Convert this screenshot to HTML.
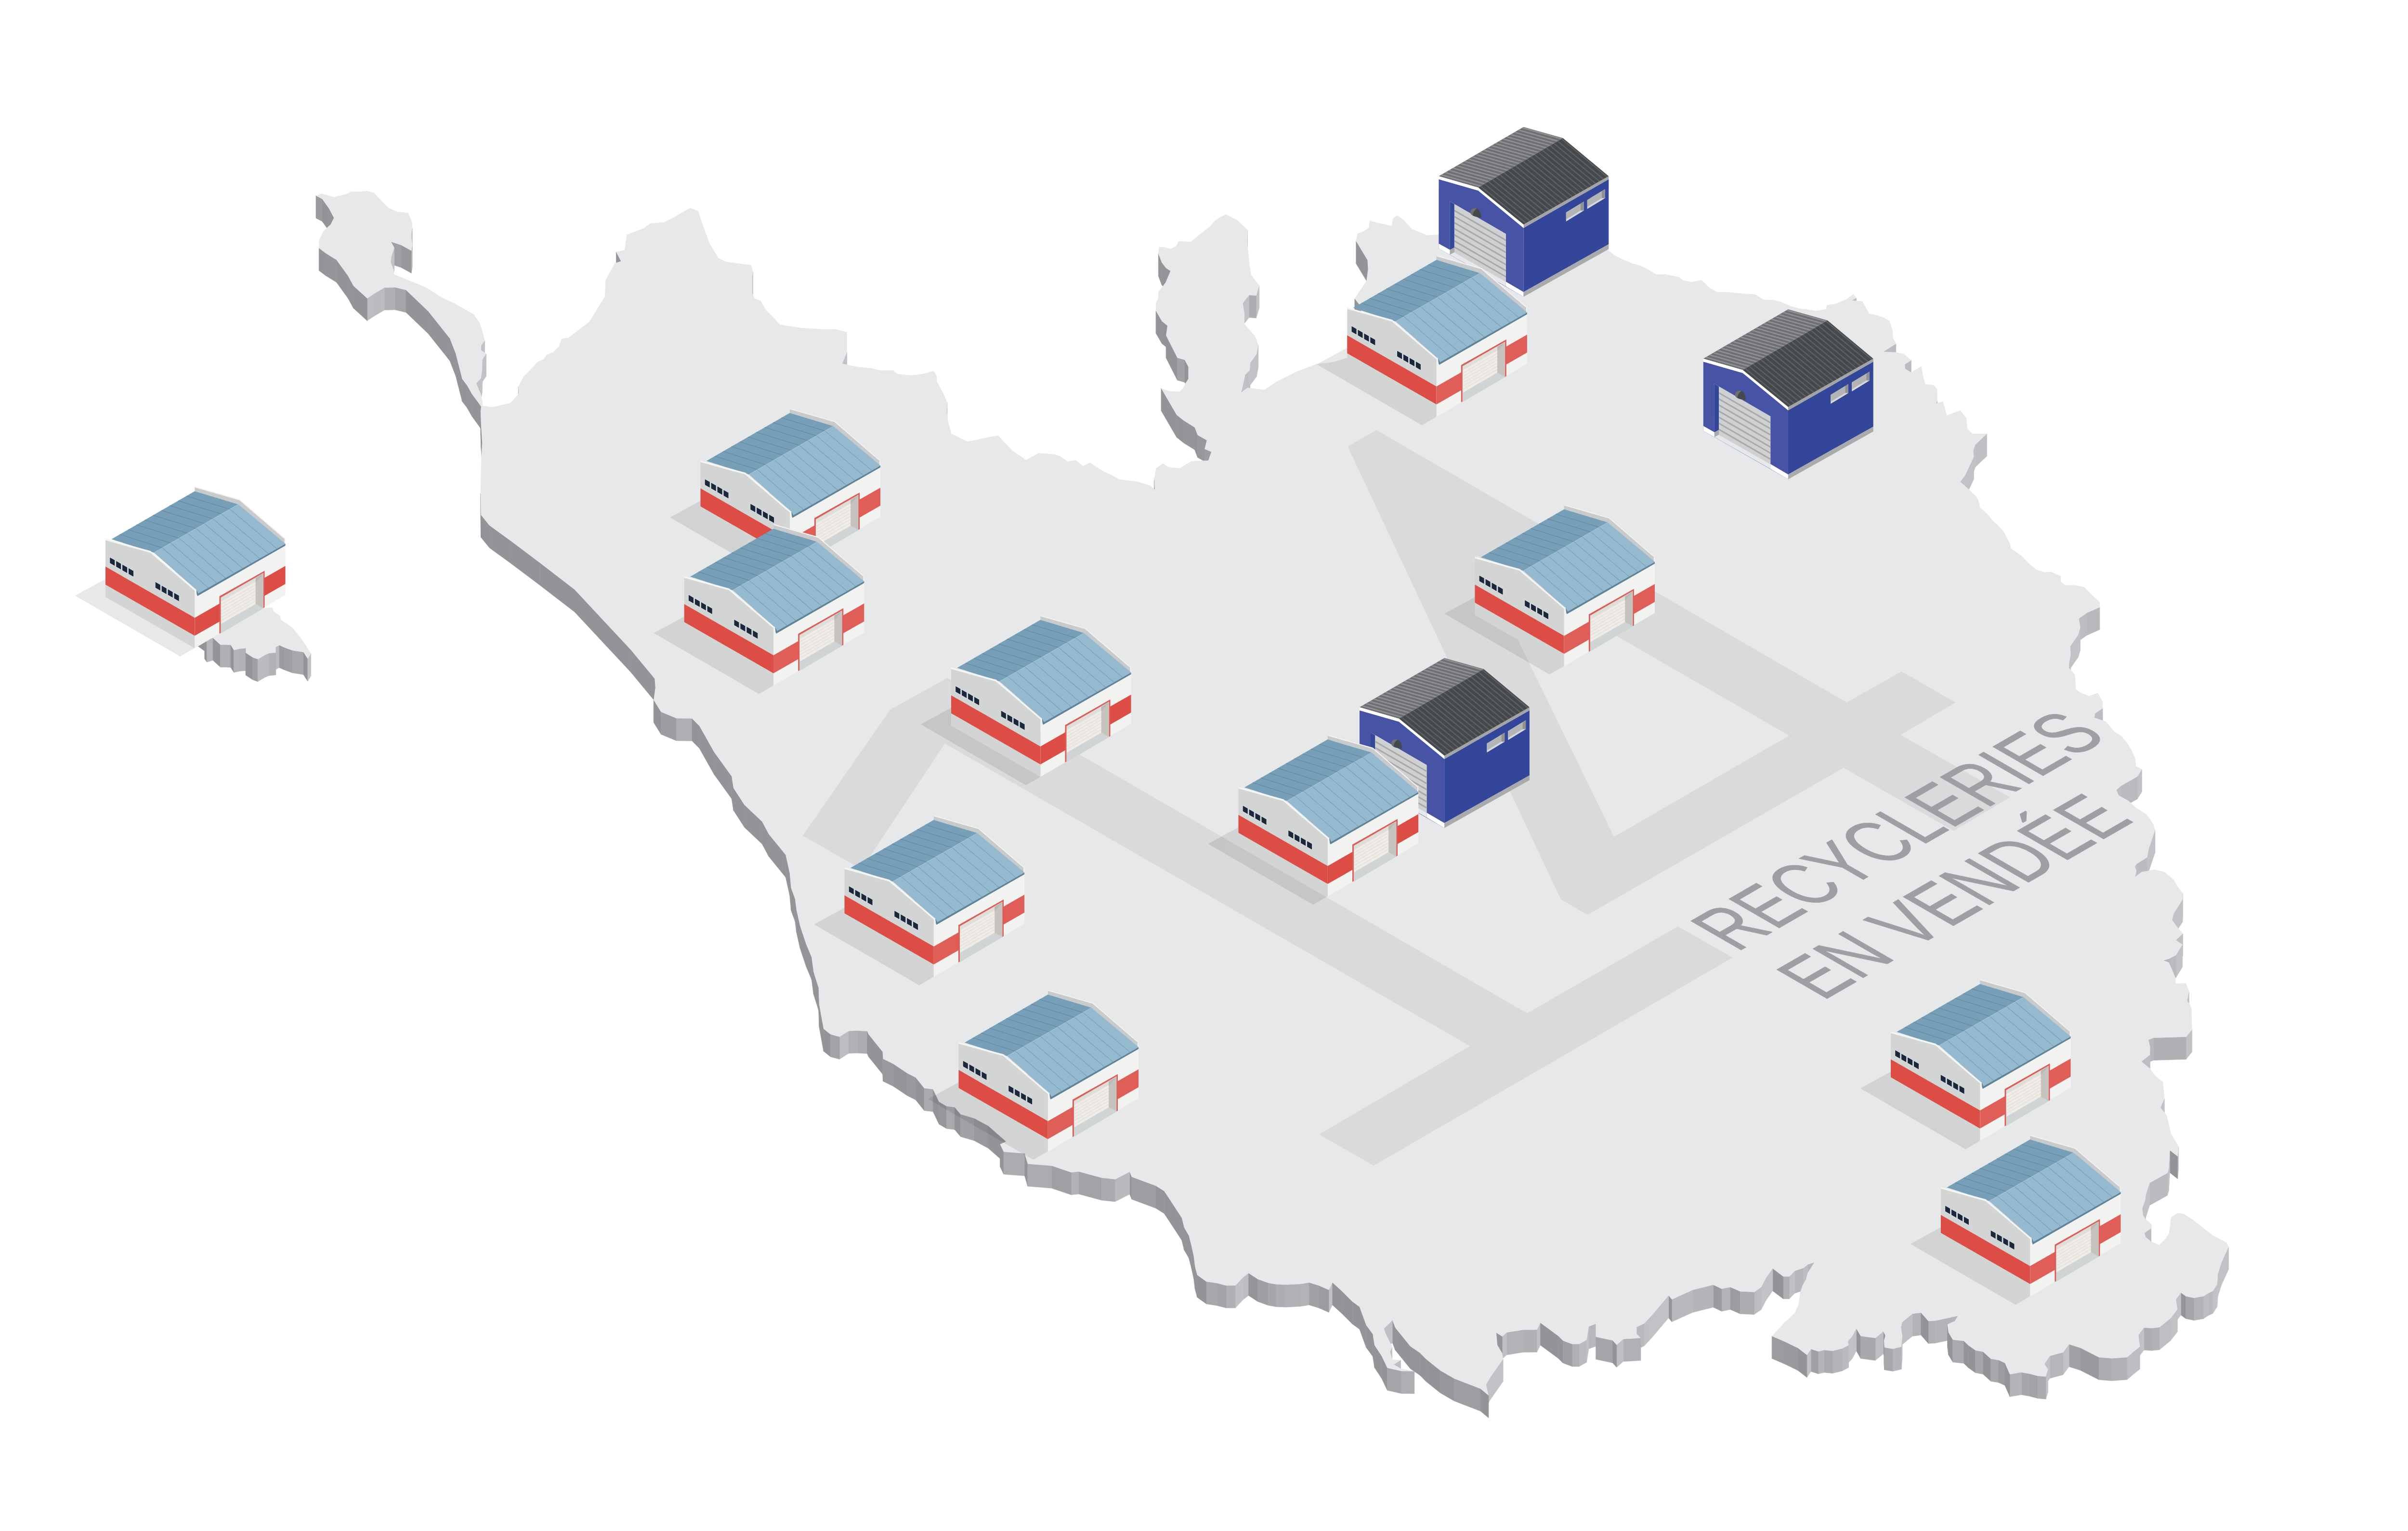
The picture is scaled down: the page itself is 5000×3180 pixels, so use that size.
<!DOCTYPE html>
<html lang="fr"><head><meta charset="utf-8"><title>Recycleries en Vendée</title>
<style>html,body{margin:0;padding:0;background:#fff;overflow:hidden}svg{display:block}</style></head><body>
<svg width="5000" height="3180" viewBox="0 0 5000 3180">
<rect width="5000" height="3180" fill="#fff"/>
<g id="sides">
<polygon points="407.4,1287.2 411.7,1296.2 411.7,1342.7 407.4,1333.7" fill="#939498" stroke="#939498" stroke-width="0.6"/>
<polygon points="411.7,1296.2 424.8,1305.8 424.8,1352.3 411.7,1342.7" fill="#939498" stroke="#939498" stroke-width="0.6"/>
<polygon points="424.8,1321.9 429.5,1328.7 429.5,1375.2 424.8,1368.4" fill="#939498" stroke="#939498" stroke-width="0.6"/>
<polygon points="429.5,1328.7 442.1,1325 442.1,1371.5 429.5,1375.2" fill="#b5b6ba" stroke="#b5b6ba" stroke-width="0.6"/>
<polygon points="442.1,1325 457.6,1339.3 457.6,1385.8 442.1,1371.5" fill="#939498" stroke="#939498" stroke-width="0.6"/>
<polygon points="457.6,1339.3 467,1339.3 467,1385.8 457.6,1385.8" fill="#afb0b4" stroke="#afb0b4" stroke-width="0.6"/>
<polygon points="467,1339.3 479,1339.7 479,1386.2 467,1385.8" fill="#adaeb2" stroke="#adaeb2" stroke-width="0.6"/>
<polygon points="572.2,1344.3 579.9,1340.3 579.9,1386.8 572.2,1390.8" fill="#babbbf" stroke="#babbbf" stroke-width="0.6"/>
<polygon points="579.9,1340.3 591.7,1345.5 591.7,1392 579.9,1386.8" fill="#9b9ca0" stroke="#9b9ca0" stroke-width="0.6"/>
<polygon points="498,1347.6 510.1,1346.4 510.1,1392.9 498,1394.1" fill="#b1b2b6" stroke="#b1b2b6" stroke-width="0.6"/>
<polygon points="479,1339.7 485.6,1350.2 485.6,1396.7 479,1386.2" fill="#939498" stroke="#939498" stroke-width="0.6"/>
<polygon points="485.6,1350.2 498,1347.6 498,1394.1 485.6,1396.7" fill="#b3b4b8" stroke="#b3b4b8" stroke-width="0.6"/>
<polygon points="591.7,1345.5 607.2,1351.1 607.2,1397.6 591.7,1392" fill="#9e9fa3" stroke="#9e9fa3" stroke-width="0.6"/>
<polygon points="607.2,1351.1 630.2,1354.8 630.2,1401.3 607.2,1397.6" fill="#a7a8ac" stroke="#a7a8ac" stroke-width="0.6"/>
<polygon points="510.1,1346.4 510.4,1356 510.4,1402.5 510.1,1392.9" fill="#939498" stroke="#939498" stroke-width="0.6"/>
<polygon points="558.2,1356.9 572.8,1355.4 572.8,1401.9 558.2,1403.4" fill="#b1b2b6" stroke="#b1b2b6" stroke-width="0.6"/>
<polygon points="550.1,1360.4 558.2,1356.9 558.2,1403.4 550.1,1406.9" fill="#b8b9bd" stroke="#b8b9bd" stroke-width="0.6"/>
<polygon points="510.4,1356 524.7,1365.4 524.7,1411.9 510.4,1402.5" fill="#949599" stroke="#949599" stroke-width="0.6"/>
<polygon points="630.2,1354.8 638.9,1368.5 638.9,1415 630.2,1401.3" fill="#939498" stroke="#939498" stroke-width="0.6"/>
<polygon points="638.9,1368.5 645.7,1357.3 645.7,1403.8 638.9,1415" fill="#c1c2c6" stroke="#c1c2c6" stroke-width="0.6"/>
<polygon points="524.7,1365.4 535.5,1369.3 535.5,1415.8 524.7,1411.9" fill="#9e9fa3" stroke="#9e9fa3" stroke-width="0.6"/>
<polygon points="535.5,1369.3 550.1,1360.4 550.1,1406.9 535.5,1415.8" fill="#bbbcc0" stroke="#bbbcc0" stroke-width="0.6"/>
<polygon points="668.9,413.3 656,406.6 656,453.1 668.9,459.8" fill="#999a9e" stroke="#999a9e" stroke-width="0.6"/>
<polygon points="682.6,432.3 668.9,413.3 668.9,459.8 682.6,478.8" fill="#939498" stroke="#939498" stroke-width="0.6"/>
<polygon points="693.3,452.6 682.6,432.3 682.6,478.8 693.3,499.1" fill="#939498" stroke="#939498" stroke-width="0.6"/>
<polygon points="856.5,473.9 853.8,484.9 853.8,531.4 856.5,520.4" fill="#c1c2c6" stroke="#c1c2c6" stroke-width="0.6"/>
<polygon points="2590.6,477.5 2589.8,506.2 2589.8,552.7 2590.6,524" fill="#c1c2c6" stroke="#c1c2c6" stroke-width="0.6"/>
<polygon points="833.1,509.2 812.2,502.2 812.2,548.7 833.1,555.7" fill="#9fa0a4" stroke="#9fa0a4" stroke-width="0.6"/>
<polygon points="856.5,508.2 854.1,520.8 854.1,567.3 856.5,554.7" fill="#c1c2c6" stroke="#c1c2c6" stroke-width="0.6"/>
<polygon points="854.1,520.8 833.1,509.2 833.1,555.7 854.1,567.3" fill="#97989c" stroke="#97989c" stroke-width="0.6"/>
<polygon points="675.9,525.8 662.3,515.5 662.3,562 675.9,572.3" fill="#939498" stroke="#939498" stroke-width="0.6"/>
<polygon points="818.8,514.5 812.5,534.8 812.5,581.3 818.8,561" fill="#c1c2c6" stroke="#c1c2c6" stroke-width="0.6"/>
<polygon points="698.6,539.8 675.9,525.8 675.9,572.3 698.6,586.3" fill="#95969a" stroke="#95969a" stroke-width="0.6"/>
<polygon points="2839.4,540.1 2815.8,500.9 2815.8,547.4 2839.4,586.6" fill="#939498" stroke="#939498" stroke-width="0.6"/>
<polygon points="1289.4,542.5 1279.4,523.2 1279.4,569.7 1289.4,589" fill="#939498" stroke="#939498" stroke-width="0.6"/>
<polygon points="812.5,534.8 811.2,544.2 811.2,590.7 812.5,581.3" fill="#c1c2c6" stroke="#c1c2c6" stroke-width="0.6"/>
<polygon points="2412.2,545 2405.3,526.9 2405.3,573.4 2412.2,591.5" fill="#939498" stroke="#939498" stroke-width="0.6"/>
<polygon points="2420.8,556.5 2412.2,545 2412.2,591.5 2420.8,603" fill="#939498" stroke="#939498" stroke-width="0.6"/>
<polygon points="2840.7,557.8 2839.4,540.1 2839.4,586.6 2840.7,604.3" fill="#939498" stroke="#939498" stroke-width="0.6"/>
<polygon points="2430.3,562.8 2420.8,556.5 2420.8,603 2430.3,609.3" fill="#949599" stroke="#949599" stroke-width="0.6"/>
<polygon points="722.6,573.1 698.6,539.8 698.6,586.3 722.6,619.6" fill="#939498" stroke="#939498" stroke-width="0.6"/>
<polygon points="1563.5,564 1561.9,575.3 1561.9,621.8 1563.5,610.5" fill="#c1c2c6" stroke="#c1c2c6" stroke-width="0.6"/>
<polygon points="733.9,593.8 722.6,573.1 722.6,619.6 733.9,640.3" fill="#939498" stroke="#939498" stroke-width="0.6"/>
<polygon points="820.5,597.1 798.2,597.5 798.2,644 820.5,643.6" fill="#afb0b4" stroke="#afb0b4" stroke-width="0.6"/>
<polygon points="843.1,602.4 820.5,597.1 820.5,643.6 843.1,648.9" fill="#a4a5a9" stroke="#a4a5a9" stroke-width="0.6"/>
<polygon points="798.2,597.5 775.9,610.8 775.9,657.3 798.2,644" fill="#bbbcc0" stroke="#bbbcc0" stroke-width="0.6"/>
<polygon points="2614.8,593 2608.4,614 2608.4,660.5 2614.8,639.5" fill="#c1c2c6" stroke="#c1c2c6" stroke-width="0.6"/>
<polygon points="2608.4,614 2593.5,613.1 2593.5,659.6 2608.4,660.5" fill="#acadb1" stroke="#acadb1" stroke-width="0.6"/>
<polygon points="775.9,610.8 762.5,619.8 762.5,666.3 775.9,657.3" fill="#bcbdc1" stroke="#bcbdc1" stroke-width="0.6"/>
<polygon points="762.5,619.8 733.9,593.8 733.9,640.3 762.5,666.3" fill="#939498" stroke="#939498" stroke-width="0.6"/>
<polygon points="3854.7,619.2 3845.1,623.8 3845.1,670.3 3854.7,665.7" fill="#b9babe" stroke="#b9babe" stroke-width="0.6"/>
<polygon points="2593.5,613.1 2580.6,629.8 2580.6,676.3 2593.5,659.6" fill="#c1c2c6" stroke="#c1c2c6" stroke-width="0.6"/>
<polygon points="2822,632 2812.9,620.5 2812.9,667 2822,678.5" fill="#939498" stroke="#939498" stroke-width="0.6"/>
<polygon points="889.1,646.4 843.1,602.4 843.1,648.9 889.1,692.9" fill="#939498" stroke="#939498" stroke-width="0.6"/>
<polygon points="2412.5,667.1 2400.1,645.6 2400.1,692.1 2412.5,713.6" fill="#939498" stroke="#939498" stroke-width="0.6"/>
<polygon points="2424,676.6 2412.5,667.1 2412.5,713.6 2424,723.1" fill="#939498" stroke="#939498" stroke-width="0.6"/>
<polygon points="2840,690 2822,632 2822,678.5 2840,736.5" fill="#939498" stroke="#939498" stroke-width="0.6"/>
<polygon points="934.1,703 889.1,646.4 889.1,692.9 934.1,749.5" fill="#939498" stroke="#939498" stroke-width="0.6"/>
<polygon points="1006.7,707.4 999,717.4 999,763.9 1006.7,753.9" fill="#c1c2c6" stroke="#c1c2c6" stroke-width="0.6"/>
<polygon points="3936.9,714 3910.8,730.6 3910.8,777.1 3936.9,760.5" fill="#bbbcc0" stroke="#bbbcc0" stroke-width="0.6"/>
<polygon points="946.4,734.7 934.1,703 934.1,749.5 946.4,781.2" fill="#939498" stroke="#939498" stroke-width="0.6"/>
<polygon points="2612.8,716 2609,736.1 2609,782.6 2612.8,762.5" fill="#c1c2c6" stroke="#c1c2c6" stroke-width="0.6"/>
<polygon points="2444.7,743.3 2421.1,696.7 2421.1,743.2 2444.7,789.8" fill="#939498" stroke="#939498" stroke-width="0.6"/>
<polygon points="1009.7,734.7 1001.7,746.7 1001.7,793.2 1009.7,781.2" fill="#c1c2c6" stroke="#c1c2c6" stroke-width="0.6"/>
<polygon points="2459.9,747.6 2444.7,743.3 2444.7,789.8 2459.9,794.1" fill="#a1a2a6" stroke="#a1a2a6" stroke-width="0.6"/>
<polygon points="2609,736.1 2596.1,753.3 2596.1,799.8 2609,782.6" fill="#c1c2c6" stroke="#c1c2c6" stroke-width="0.6"/>
<polygon points="1758.8,731.1 1748.8,755.2 1748.8,801.7 1758.8,777.6" fill="#c1c2c6" stroke="#c1c2c6" stroke-width="0.6"/>
<polygon points="3968.5,748.4 3955.2,756.8 3955.2,803.3 3968.5,794.9" fill="#bbbcc0" stroke="#bbbcc0" stroke-width="0.6"/>
<polygon points="2467.6,762 2459.9,747.6 2459.9,794.1 2467.6,808.5" fill="#939498" stroke="#939498" stroke-width="0.6"/>
<polygon points="2596.1,753.3 2594.9,769.1 2594.9,815.6 2596.1,799.8" fill="#c1c2c6" stroke="#c1c2c6" stroke-width="0.6"/>
<polygon points="1001.7,746.7 1001,769.6 1001,816.1 1001.7,793.2" fill="#c1c2c6" stroke="#c1c2c6" stroke-width="0.6"/>
<polygon points="2594.9,769.1 2585.5,778.6 2585.5,825.1 2594.9,815.6" fill="#bfc0c4" stroke="#bfc0c4" stroke-width="0.6"/>
<polygon points="1001,769.6 998.7,785.6 998.7,832.1 1001,816.1" fill="#c1c2c6" stroke="#c1c2c6" stroke-width="0.6"/>
<polygon points="959.7,787.3 946.4,734.7 946.4,781.2 959.7,833.8" fill="#939498" stroke="#939498" stroke-width="0.6"/>
<polygon points="998.7,785.6 989,796.3 989,842.8 998.7,832.1" fill="#c0c1c5" stroke="#c0c1c5" stroke-width="0.6"/>
<polygon points="969.7,800.3 959.7,787.3 959.7,833.8 969.7,846.8" fill="#939498" stroke="#939498" stroke-width="0.6"/>
<polygon points="2585.5,778.6 2577.4,815.1 2577.4,861.6 2585.5,825.1" fill="#c1c2c6" stroke="#c1c2c6" stroke-width="0.6"/>
<polygon points="1076.9,817.3 1076.3,802.9 1076.3,849.4 1076.9,863.8" fill="#939498" stroke="#939498" stroke-width="0.6"/>
<polygon points="979.7,817.9 969.7,800.3 969.7,846.8 979.7,864.4" fill="#939498" stroke="#939498" stroke-width="0.6"/>
<polygon points="4022.9,832.4 4019.6,838.6 4019.6,885.1 4022.9,878.9" fill="#c1c2c6" stroke="#c1c2c6" stroke-width="0.6"/>
<polygon points="999,844.6 979.7,817.9 979.7,864.4 999,891.1" fill="#939498" stroke="#939498" stroke-width="0.6"/>
<polygon points="1967,835.8 1965.7,853.6 1965.7,900.1 1967,882.3" fill="#c1c2c6" stroke="#c1c2c6" stroke-width="0.6"/>
<polygon points="2443.3,861.9 2411,806.5 2411,853 2443.3,908.4" fill="#939498" stroke="#939498" stroke-width="0.6"/>
<polygon points="2457.9,873.6 2443.3,861.9 2443.3,908.4 2457.9,920.1" fill="#939498" stroke="#939498" stroke-width="0.6"/>
<polygon points="999,885.9 997.8,854.8 997.8,901.3 999,932.4" fill="#939498" stroke="#939498" stroke-width="0.6"/>
<polygon points="2480.7,887.7 2457.9,873.6 2457.9,920.1 2480.7,934.2" fill="#95969a" stroke="#95969a" stroke-width="0.6"/>
<polygon points="2486.7,903.8 2480.7,887.7 2480.7,934.2 2486.7,950.3" fill="#939498" stroke="#939498" stroke-width="0.6"/>
<polygon points="2505.8,914.5 2486.7,903.8 2486.7,950.3 2505.8,961" fill="#97989c" stroke="#97989c" stroke-width="0.6"/>
<polygon points="1001.1,917.1 999,885.9 999,932.4 1001.1,963.6" fill="#939498" stroke="#939498" stroke-width="0.6"/>
<polygon points="4125.6,900.9 4101.5,923.8 4101.5,970.3 4125.6,947.4" fill="#bfc0c4" stroke="#bfc0c4" stroke-width="0.6"/>
<polygon points="4101.5,923.8 4097.3,936.2 4097.3,982.7 4101.5,970.3" fill="#c1c2c6" stroke="#c1c2c6" stroke-width="0.6"/>
<polygon points="2515.3,938.5 2501.2,932.7 2501.2,979.2 2515.3,985" fill="#9c9da1" stroke="#9c9da1" stroke-width="0.6"/>
<polygon points="4098.5,948.7 4079.9,988.2 4079.9,1034.7 4098.5,995.2" fill="#c1c2c6" stroke="#c1c2c6" stroke-width="0.6"/>
<polygon points="4079.9,988.2 4070.3,1000.6 4070.3,1047.1 4079.9,1034.7" fill="#c1c2c6" stroke="#c1c2c6" stroke-width="0.6"/>
<polygon points="2397.8,1017.1 2396.5,996 2396.5,1042.5 2397.8,1063.6" fill="#939498" stroke="#939498" stroke-width="0.6"/>
<polygon points="998.6,1069.6 997.8,1025.1 997.8,1071.6 998.6,1116.1" fill="#939498" stroke="#939498" stroke-width="0.6"/>
<polygon points="1016.5,1091.6 998.6,1069.6 998.6,1116.1 1016.5,1138.1" fill="#939498" stroke="#939498" stroke-width="0.6"/>
<polygon points="1062.2,1124.8 1016.5,1091.6 1016.5,1138.1 1062.2,1171.3" fill="#939498" stroke="#939498" stroke-width="0.6"/>
<polygon points="1120.3,1168.5 1062.2,1124.8 1062.2,1171.3 1120.3,1215" fill="#939498" stroke="#939498" stroke-width="0.6"/>
<polygon points="1193,1224.5 1120.3,1168.5 1120.3,1215 1193,1271" fill="#939498" stroke="#939498" stroke-width="0.6"/>
<polygon points="4359.9,1261.2 4332.9,1273.2 4332.9,1319.7 4359.9,1307.7" fill="#b8b9bd" stroke="#b8b9bd" stroke-width="0.6"/>
<polygon points="4332.9,1273.2 4316.7,1284.9 4316.7,1331.4 4332.9,1319.7" fill="#bcbdc1" stroke="#bcbdc1" stroke-width="0.6"/>
<polygon points="4319.6,1303.6 4315.5,1318.1 4315.5,1364.6 4319.6,1350.1" fill="#c1c2c6" stroke="#c1c2c6" stroke-width="0.6"/>
<polygon points="4315.5,1318.1 4298.8,1342.2 4298.8,1388.7 4315.5,1364.6" fill="#c1c2c6" stroke="#c1c2c6" stroke-width="0.6"/>
<polygon points="1309.4,1349.2 1193,1224.5 1193,1271 1309.4,1395.7" fill="#939498" stroke="#939498" stroke-width="0.6"/>
<polygon points="4299.7,1359.7 4296.8,1374.2 4296.8,1420.7 4299.7,1406.2" fill="#c1c2c6" stroke="#c1c2c6" stroke-width="0.6"/>
<polygon points="4296.8,1374.2 4295.5,1386.7 4295.5,1433.2 4296.8,1420.7" fill="#c1c2c6" stroke="#c1c2c6" stroke-width="0.6"/>
<polygon points="1359.3,1409.4 1309.4,1349.2 1309.4,1395.7 1359.3,1455.9" fill="#939498" stroke="#939498" stroke-width="0.6"/>
<polygon points="1360.9,1428.1 1359.3,1409.4 1359.3,1455.9 1360.9,1474.6" fill="#939498" stroke="#939498" stroke-width="0.6"/>
<polygon points="1372.6,1478.8 1357.2,1453.9 1357.2,1500.4 1372.6,1525.3" fill="#939498" stroke="#939498" stroke-width="0.6"/>
<polygon points="4366.1,1471 4349.9,1482.2 4349.9,1528.7 4366.1,1517.5" fill="#bcbdc1" stroke="#bcbdc1" stroke-width="0.6"/>
<polygon points="4349.9,1482.2 4348.7,1490.5 4348.7,1537 4349.9,1528.7" fill="#c1c2c6" stroke="#c1c2c6" stroke-width="0.6"/>
<polygon points="1404.5,1492.1 1372.6,1478.8 1372.6,1525.3 1404.5,1538.6" fill="#9c9da1" stroke="#9c9da1" stroke-width="0.6"/>
<polygon points="1437,1492.5 1404.5,1492.1 1404.5,1538.6 1437,1539" fill="#aeafb3" stroke="#aeafb3" stroke-width="0.6"/>
<polygon points="1452.3,1507.9 1437,1492.5 1437,1539 1452.3,1554.4" fill="#939498" stroke="#939498" stroke-width="0.6"/>
<polygon points="1482.7,1561.9 1452.3,1507.9 1452.3,1554.4 1482.7,1608.4" fill="#939498" stroke="#939498" stroke-width="0.6"/>
<polygon points="1519.2,1612.6 1482.7,1561.9 1482.7,1608.4 1519.2,1659.1" fill="#939498" stroke="#939498" stroke-width="0.6"/>
<polygon points="4447.6,1597.7 4438,1613.1 4438,1659.6 4447.6,1644.2" fill="#c1c2c6" stroke="#c1c2c6" stroke-width="0.6"/>
<polygon points="4438,1613.1 4421.4,1622.6 4421.4,1669.1 4438,1659.6" fill="#babbbf" stroke="#babbbf" stroke-width="0.6"/>
<polygon points="4421.4,1622.6 4403.9,1632.6 4403.9,1679.1 4421.4,1669.1" fill="#babbbf" stroke="#babbbf" stroke-width="0.6"/>
<polygon points="1523,1636.7 1519.2,1612.6 1519.2,1659.1 1523,1683.2" fill="#939498" stroke="#939498" stroke-width="0.6"/>
<polygon points="4403.9,1632.6 4394.4,1640.9 4394.4,1687.4 4403.9,1679.1" fill="#bebfc3" stroke="#bebfc3" stroke-width="0.6"/>
<polygon points="1545.8,1672 1523,1636.7 1523,1683.2 1545.8,1718.5" fill="#939498" stroke="#939498" stroke-width="0.6"/>
<polygon points="1582.4,1706.5 1545.8,1672 1545.8,1718.5 1582.4,1753" fill="#939498" stroke="#939498" stroke-width="0.6"/>
<polygon points="1596.1,1732.2 1582.4,1706.5 1582.4,1753 1596.1,1778.7" fill="#939498" stroke="#939498" stroke-width="0.6"/>
<polygon points="4474.9,1724.1 4462,1762.3 4462,1808.8 4474.9,1770.6" fill="#c1c2c6" stroke="#c1c2c6" stroke-width="0.6"/>
<polygon points="1631.4,1775.8 1596.1,1732.2 1596.1,1778.7 1631.4,1822.3" fill="#939498" stroke="#939498" stroke-width="0.6"/>
<polygon points="4462,1762.3 4458.2,1781 4458.2,1827.5 4462,1808.8" fill="#c1c2c6" stroke="#c1c2c6" stroke-width="0.6"/>
<polygon points="4458.2,1781 4436.2,1794.7 4436.2,1841.2 4458.2,1827.5" fill="#bbbcc0" stroke="#bbbcc0" stroke-width="0.6"/>
<polygon points="4436.2,1794.7 4432.9,1800.5 4432.9,1847 4436.2,1841.2" fill="#c1c2c6" stroke="#c1c2c6" stroke-width="0.6"/>
<polygon points="1639.7,1813.2 1631.4,1775.8 1631.4,1822.3 1639.7,1859.7" fill="#939498" stroke="#939498" stroke-width="0.6"/>
<polygon points="4436.2,1808.8 4433.3,1821.3 4433.3,1867.8 4436.2,1855.3" fill="#c1c2c6" stroke="#c1c2c6" stroke-width="0.6"/>
<polygon points="1642.6,1844.4 1639.7,1813.2 1639.7,1859.7 1642.6,1890.9" fill="#939498" stroke="#939498" stroke-width="0.6"/>
<polygon points="1650.9,1867.2 1642.6,1844.4 1642.6,1890.9 1650.9,1913.7" fill="#939498" stroke="#939498" stroke-width="0.6"/>
<polygon points="4532.6,1855.8 4531.8,1868.3 4531.8,1914.8 4532.6,1902.3" fill="#c1c2c6" stroke="#c1c2c6" stroke-width="0.6"/>
<polygon points="1653.8,1890.1 1650.9,1867.2 1650.9,1913.7 1653.8,1936.6" fill="#939498" stroke="#939498" stroke-width="0.6"/>
<polygon points="4531.8,1868.3 4513.1,1898.6 4513.1,1945.1 4531.8,1914.8" fill="#c1c2c6" stroke="#c1c2c6" stroke-width="0.6"/>
<polygon points="4513.1,1898.6 4510.2,1911.1 4510.2,1957.6 4513.1,1945.1" fill="#c1c2c6" stroke="#c1c2c6" stroke-width="0.6"/>
<polygon points="1661.3,1923.3 1653.8,1890.1 1653.8,1936.6 1661.3,1969.8" fill="#939498" stroke="#939498" stroke-width="0.6"/>
<polygon points="4532.6,1938.9 4518.1,1952.6 4518.1,1999.1 4532.6,1985.4" fill="#bfc0c4" stroke="#bfc0c4" stroke-width="0.6"/>
<polygon points="1673.8,1960.7 1661.3,1923.3 1661.3,1969.8 1673.8,2007.2" fill="#939498" stroke="#939498" stroke-width="0.6"/>
<polygon points="4531.8,1961.7 4518.5,1983.8 4518.5,2030.3 4531.8,2008.2" fill="#c1c2c6" stroke="#c1c2c6" stroke-width="0.6"/>
<polygon points="1685.2,1988.2 1673.8,1960.7 1673.8,2007.2 1685.2,2034.7" fill="#939498" stroke="#939498" stroke-width="0.6"/>
<polygon points="4518.5,1983.8 4505.6,1990.8 4505.6,2037.3 4518.5,2030.3" fill="#babbbf" stroke="#babbbf" stroke-width="0.6"/>
<polygon points="4505.6,1990.8 4492.3,1995 4492.3,2041.5 4505.6,2037.3" fill="#b6b7bb" stroke="#b6b7bb" stroke-width="0.6"/>
<polygon points="1689.3,2018.6 1685.2,1988.2 1685.2,2034.7 1689.3,2065.1" fill="#939498" stroke="#939498" stroke-width="0.6"/>
<polygon points="1699.7,2051.8 1689.3,2018.6 1689.3,2065.1 1699.7,2098.3" fill="#939498" stroke="#939498" stroke-width="0.6"/>
<polygon points="4545.5,2059.4 4541.3,2078.1 4541.3,2124.6 4545.5,2105.9" fill="#c1c2c6" stroke="#c1c2c6" stroke-width="0.6"/>
<polygon points="1701,2087.1 1699.7,2051.8 1699.7,2098.3 1701,2133.6" fill="#939498" stroke="#939498" stroke-width="0.6"/>
<polygon points="1710.1,2137 1701,2087.1 1701,2133.6 1710.1,2183.5" fill="#939498" stroke="#939498" stroke-width="0.6"/>
<polygon points="1780.7,2140.7 1762,2141.5 1762,2188 1780.7,2187.2" fill="#b0b1b5" stroke="#b0b1b5" stroke-width="0.6"/>
<polygon points="1800.7,2141.9 1780.7,2140.7 1780.7,2187.2 1800.7,2188.4" fill="#acadb1" stroke="#acadb1" stroke-width="0.6"/>
<polygon points="1803.6,2148.6 1800.7,2141.9 1800.7,2188.4 1803.6,2195.1" fill="#939498" stroke="#939498" stroke-width="0.6"/>
<polygon points="1724.6,2148.6 1710.1,2137 1710.1,2183.5 1724.6,2195.1" fill="#939498" stroke="#939498" stroke-width="0.6"/>
<polygon points="1762,2141.5 1743.3,2153.6 1743.3,2200.1 1762,2188" fill="#bcbdc1" stroke="#bcbdc1" stroke-width="0.6"/>
<polygon points="1743.3,2153.6 1724.6,2148.6 1724.6,2195.1 1743.3,2200.1" fill="#a2a3a7" stroke="#a2a3a7" stroke-width="0.6"/>
<polygon points="4551.7,2138.3 4539.3,2153.7 4539.3,2200.2 4551.7,2184.8" fill="#c1c2c6" stroke="#c1c2c6" stroke-width="0.6"/>
<polygon points="4539.3,2153.7 4471.5,2155.8 4471.5,2202.3 4539.3,2200.2" fill="#afb0b4" stroke="#afb0b4" stroke-width="0.6"/>
<polygon points="4471.5,2155.8 4461.2,2159.9 4461.2,2206.4 4471.5,2202.3" fill="#b7b8bc" stroke="#b7b8bc" stroke-width="0.6"/>
<polygon points="1832.7,2184.7 1803.6,2148.6 1803.6,2195.1 1832.7,2231.2" fill="#939498" stroke="#939498" stroke-width="0.6"/>
<polygon points="4464.5,2173.6 4464.1,2191.1 4464.1,2237.6 4464.5,2220.1" fill="#c1c2c6" stroke="#c1c2c6" stroke-width="0.6"/>
<polygon points="1833.5,2199.3 1832.7,2184.7 1832.7,2231.2 1833.5,2245.8" fill="#939498" stroke="#939498" stroke-width="0.6"/>
<polygon points="4464.1,2191.1 4446.6,2204.8 4446.6,2251.3 4464.1,2237.6" fill="#bdbec2" stroke="#bdbec2" stroke-width="0.6"/>
<polygon points="1854.7,2209.7 1833.5,2199.3 1833.5,2245.8 1854.7,2256.2" fill="#999a9e" stroke="#999a9e" stroke-width="0.6"/>
<polygon points="1883.8,2229.2 1854.7,2209.7 1854.7,2256.2 1883.8,2275.7" fill="#949599" stroke="#949599" stroke-width="0.6"/>
<polygon points="1901.2,2237.9 1883.8,2229.2 1883.8,2275.7 1901.2,2284.4" fill="#999a9e" stroke="#999a9e" stroke-width="0.6"/>
<polygon points="1919.1,2260.3 1901.2,2237.9 1901.2,2284.4 1919.1,2306.8" fill="#939498" stroke="#939498" stroke-width="0.6"/>
<polygon points="1937.3,2262.4 1919.1,2260.3 1919.1,2306.8 1937.3,2308.9" fill="#a9aaae" stroke="#a9aaae" stroke-width="0.6"/>
<polygon points="1949.8,2288.6 1937.3,2262.4 1937.3,2308.9 1949.8,2335.1" fill="#939498" stroke="#939498" stroke-width="0.6"/>
<polygon points="1965.6,2297.7 1949.8,2288.6 1949.8,2335.1 1965.6,2344.2" fill="#96979b" stroke="#96979b" stroke-width="0.6"/>
<polygon points="1982.2,2299.8 1965.6,2297.7 1965.6,2344.2 1982.2,2346.3" fill="#a9aaae" stroke="#a9aaae" stroke-width="0.6"/>
<polygon points="4494.4,2281.6 4485.9,2300.4 4485.9,2346.9 4494.4,2328.1" fill="#c1c2c6" stroke="#c1c2c6" stroke-width="0.6"/>
<polygon points="1994.7,2314.4 1982.2,2299.8 1982.2,2346.3 1994.7,2360.9" fill="#939498" stroke="#939498" stroke-width="0.6"/>
<polygon points="2022.9,2322.7 1994.7,2314.4 1994.7,2360.9 2022.9,2369.2" fill="#a1a2a6" stroke="#a1a2a6" stroke-width="0.6"/>
<polygon points="2052,2338.5 2022.9,2322.7 2022.9,2369.2 2052,2385" fill="#98999d" stroke="#98999d" stroke-width="0.6"/>
<polygon points="2089,2370.9 2052,2338.5 2052,2385 2089,2417.4" fill="#939498" stroke="#939498" stroke-width="0.6"/>
<polygon points="2084,2392.5 2076.5,2376.7 2076.5,2423.2 2084,2439" fill="#939498" stroke="#939498" stroke-width="0.6"/>
<polygon points="2127.6,2395.8 2084,2392.5 2084,2439 2127.6,2442.3" fill="#abacb0" stroke="#abacb0" stroke-width="0.6"/>
<polygon points="4523.7,2381 4521.7,2402.1 4521.7,2448.6 4523.7,2427.5" fill="#c1c2c6" stroke="#c1c2c6" stroke-width="0.6"/>
<polygon points="4521.7,2402.1 4505.5,2389.3 4505.5,2435.8 4521.7,2448.6" fill="#939498" stroke="#939498" stroke-width="0.6"/>
<polygon points="2133.9,2417.4 2127.6,2395.8 2127.6,2442.3 2133.9,2463.9" fill="#939498" stroke="#939498" stroke-width="0.6"/>
<polygon points="2183.7,2421.5 2133.9,2417.4 2133.9,2463.9 2183.7,2468" fill="#abacb0" stroke="#abacb0" stroke-width="0.6"/>
<polygon points="4505.5,2389.3 4503.3,2426.6 4503.3,2473.1 4505.5,2435.8" fill="#c1c2c6" stroke="#c1c2c6" stroke-width="0.6"/>
<polygon points="2239.8,2433.6 2224.4,2435.3 2224.4,2481.8 2239.8,2480.1" fill="#b1b2b6" stroke="#b1b2b6" stroke-width="0.6"/>
<polygon points="2224.4,2435.3 2183.7,2421.5 2183.7,2468 2224.4,2481.8" fill="#9fa0a4" stroke="#9fa0a4" stroke-width="0.6"/>
<polygon points="4503.3,2426.6 4500.4,2436.6 4500.4,2483.1 4503.3,2473.1" fill="#c1c2c6" stroke="#c1c2c6" stroke-width="0.6"/>
<polygon points="2349.9,2444.4 2345.7,2434 2345.7,2480.5 2349.9,2490.9" fill="#939498" stroke="#939498" stroke-width="0.6"/>
<polygon points="2287.6,2446.5 2239.8,2433.6 2239.8,2480.1 2287.6,2493" fill="#a2a3a7" stroke="#a2a3a7" stroke-width="0.6"/>
<polygon points="2345.7,2434 2315.4,2449.4 2315.4,2495.9 2345.7,2480.5" fill="#b9babe" stroke="#b9babe" stroke-width="0.6"/>
<polygon points="2315.4,2449.4 2287.6,2446.5 2287.6,2493 2315.4,2495.9" fill="#aaabaf" stroke="#aaabaf" stroke-width="0.6"/>
<polygon points="4500.4,2436.6 4463.7,2457 4463.7,2503.5 4500.4,2483.1" fill="#babbbf" stroke="#babbbf" stroke-width="0.6"/>
<polygon points="2399.8,2463.1 2349.9,2444.4 2349.9,2490.9 2399.8,2509.6" fill="#9e9fa3" stroke="#9e9fa3" stroke-width="0.6"/>
<polygon points="2417.3,2474.1 2399.8,2463.1 2399.8,2509.6 2417.3,2520.6" fill="#95969a" stroke="#95969a" stroke-width="0.6"/>
<polygon points="4463.7,2457 4455.5,2482.1 4455.5,2528.6 4463.7,2503.5" fill="#c1c2c6" stroke="#c1c2c6" stroke-width="0.6"/>
<polygon points="4455.5,2482.1 4454.9,2491 4454.9,2537.5 4455.5,2528.6" fill="#c1c2c6" stroke="#c1c2c6" stroke-width="0.6"/>
<polygon points="2428.9,2491.5 2417.3,2474.1 2417.3,2520.6 2428.9,2538" fill="#939498" stroke="#939498" stroke-width="0.6"/>
<polygon points="4454.9,2491 4448.2,2509.8 4448.2,2556.3 4454.9,2537.5" fill="#c1c2c6" stroke="#c1c2c6" stroke-width="0.6"/>
<polygon points="2453.9,2529.8 2428.9,2491.5 2428.9,2538 2453.9,2576.3" fill="#939498" stroke="#939498" stroke-width="0.6"/>
<polygon points="2458.8,2549.7 2453.9,2529.8 2453.9,2576.3 2458.8,2596.2" fill="#939498" stroke="#939498" stroke-width="0.6"/>
<polygon points="4466.6,2542 4466.2,2551.4 4466.2,2597.9 4466.6,2588.5" fill="#c1c2c6" stroke="#c1c2c6" stroke-width="0.6"/>
<polygon points="4466.2,2551.4 4452.9,2560.9 4452.9,2607.4 4466.2,2597.9" fill="#bcbdc1" stroke="#bcbdc1" stroke-width="0.6"/>
<polygon points="2468.4,2566.3 2458.8,2549.7 2458.8,2596.2 2468.4,2612.8" fill="#939498" stroke="#939498" stroke-width="0.6"/>
<polygon points="2473.8,2587.1 2468.4,2566.3 2468.4,2612.8 2473.8,2633.6" fill="#939498" stroke="#939498" stroke-width="0.6"/>
<polygon points="2478.8,2610 2473.8,2587.1 2473.8,2633.6 2478.8,2656.5" fill="#939498" stroke="#939498" stroke-width="0.6"/>
<polygon points="4627.6,2589.8 4612.8,2622 4612.8,2668.5 4627.6,2636.3" fill="#c1c2c6" stroke="#c1c2c6" stroke-width="0.6"/>
<polygon points="3767.2,2621.9 3753.9,2626.4 3753.9,2672.9 3767.2,2668.4" fill="#b6b7bb" stroke="#b6b7bb" stroke-width="0.6"/>
<polygon points="2481.3,2630.7 2478.8,2610 2478.8,2656.5 2481.3,2677.2" fill="#939498" stroke="#939498" stroke-width="0.6"/>
<polygon points="3753.9,2626.4 3744.4,2633.9 3744.4,2680.4 3753.9,2672.9" fill="#bdbec2" stroke="#bdbec2" stroke-width="0.6"/>
<polygon points="3744.4,2633.9 3726.5,2639.7 3726.5,2686.2 3744.4,2680.4" fill="#b6b7bb" stroke="#b6b7bb" stroke-width="0.6"/>
<polygon points="4612.8,2622 4605.3,2645.7 4605.3,2692.2 4612.8,2668.5" fill="#c1c2c6" stroke="#c1c2c6" stroke-width="0.6"/>
<polygon points="2485.9,2648.2 2481.3,2630.7 2481.3,2677.2 2485.9,2694.7" fill="#939498" stroke="#939498" stroke-width="0.6"/>
<polygon points="3726.5,2639.7 3715.3,2651.4 3715.3,2697.9 3726.5,2686.2" fill="#c0c1c5" stroke="#c0c1c5" stroke-width="0.6"/>
<polygon points="3715.3,2651.4 3702.8,2651.4 3702.8,2697.9 3715.3,2697.9" fill="#afb0b4" stroke="#afb0b4" stroke-width="0.6"/>
<polygon points="3702.8,2651.4 3680.8,2634.7 3680.8,2681.2 3702.8,2697.9" fill="#939498" stroke="#939498" stroke-width="0.6"/>
<polygon points="2592.6,2644.4 2580.6,2653.6 2580.6,2700.1 2592.6,2690.9" fill="#bdbec2" stroke="#bdbec2" stroke-width="0.6"/>
<polygon points="3680.8,2634.7 3666.7,2654.7 3666.7,2701.2 3680.8,2681.2" fill="#c1c2c6" stroke="#c1c2c6" stroke-width="0.6"/>
<polygon points="2611.7,2656.9 2592.6,2644.4 2592.6,2690.9 2611.7,2703.4" fill="#949599" stroke="#949599" stroke-width="0.6"/>
<polygon points="2505,2661.9 2485.9,2648.2 2485.9,2694.7 2505,2708.4" fill="#939498" stroke="#939498" stroke-width="0.6"/>
<polygon points="2633.3,2664.8 2611.7,2656.9 2611.7,2703.4 2633.3,2711.3" fill="#9e9fa3" stroke="#9e9fa3" stroke-width="0.6"/>
<polygon points="2526.6,2665.2 2505,2661.9 2505,2708.4 2526.6,2711.7" fill="#a7a8ac" stroke="#a7a8ac" stroke-width="0.6"/>
<polygon points="2718.1,2664 2700.2,2666.9 2700.2,2713.4 2718.1,2710.5" fill="#b2b3b7" stroke="#b2b3b7" stroke-width="0.6"/>
<polygon points="4605.3,2645.7 4603.7,2667.7 4603.7,2714.2 4605.3,2692.2" fill="#c1c2c6" stroke="#c1c2c6" stroke-width="0.6"/>
<polygon points="2650,2667.7 2633.3,2664.8 2633.3,2711.3 2650,2714.2" fill="#a6a7ab" stroke="#a6a7ab" stroke-width="0.6"/>
<polygon points="2700.2,2666.9 2670.7,2668.5 2670.7,2715 2700.2,2713.4" fill="#b0b1b5" stroke="#b0b1b5" stroke-width="0.6"/>
<polygon points="2670.7,2668.5 2650,2667.7 2650,2714.2 2670.7,2715" fill="#adaeb2" stroke="#adaeb2" stroke-width="0.6"/>
<polygon points="2738.5,2670.2 2718.1,2664 2718.1,2710.5 2738.5,2716.7" fill="#a0a1a5" stroke="#a0a1a5" stroke-width="0.6"/>
<polygon points="2580.6,2653.6 2565.2,2670.2 2565.2,2716.7 2580.6,2700.1" fill="#c0c1c5" stroke="#c0c1c5" stroke-width="0.6"/>
<polygon points="2565.2,2670.2 2546.1,2670.2 2546.1,2716.7 2565.2,2716.7" fill="#afb0b4" stroke="#afb0b4" stroke-width="0.6"/>
<polygon points="2546.1,2670.2 2526.6,2665.2 2526.6,2711.7 2546.1,2716.7" fill="#a3a4a8" stroke="#a3a4a8" stroke-width="0.6"/>
<polygon points="3666.7,2654.7 3657.1,2673.4 3657.1,2719.9 3666.7,2701.2" fill="#c1c2c6" stroke="#c1c2c6" stroke-width="0.6"/>
<polygon points="3592.8,2673.4 3574.9,2677.1 3574.9,2723.6 3592.8,2719.9" fill="#b3b4b8" stroke="#b3b4b8" stroke-width="0.6"/>
<polygon points="3574.9,2677.1 3557.4,2668.8 3557.4,2715.3 3574.9,2723.6" fill="#9a9b9f" stroke="#9a9b9f" stroke-width="0.6"/>
<polygon points="2766.7,2664 2759.2,2679.3 2759.2,2725.8 2766.7,2710.5" fill="#c1c2c6" stroke="#c1c2c6" stroke-width="0.6"/>
<polygon points="2759.2,2679.3 2738.5,2670.2 2738.5,2716.7 2759.2,2725.8" fill="#9b9ca0" stroke="#9b9ca0" stroke-width="0.6"/>
<polygon points="3557.4,2668.8 3514.6,2679.6 3514.6,2726.1 3557.4,2715.3" fill="#b4b5b9" stroke="#b4b5b9" stroke-width="0.6"/>
<polygon points="4603.7,2667.7 4594.9,2681.4 4594.9,2727.9 4603.7,2714.2" fill="#c1c2c6" stroke="#c1c2c6" stroke-width="0.6"/>
<polygon points="2786.2,2681.8 2766.7,2664 2766.7,2710.5 2786.2,2728.3" fill="#939498" stroke="#939498" stroke-width="0.6"/>
<polygon points="3613.5,2682.5 3592.8,2673.4 3592.8,2719.9 3613.5,2729" fill="#9b9ca0" stroke="#9b9ca0" stroke-width="0.6"/>
<polygon points="3657.1,2673.4 3642.6,2683.8 3642.6,2730.3 3657.1,2719.9" fill="#bcbdc1" stroke="#bcbdc1" stroke-width="0.6"/>
<polygon points="3642.6,2683.8 3613.5,2682.5 3613.5,2729 3642.6,2730.3" fill="#acadb1" stroke="#acadb1" stroke-width="0.6"/>
<polygon points="4594.9,2681.4 4584.5,2686.4 4584.5,2732.9 4594.9,2727.9" fill="#b9babe" stroke="#b9babe" stroke-width="0.6"/>
<polygon points="4584.5,2686.4 4575.4,2692.6 4575.4,2739.1 4584.5,2732.9" fill="#bcbdc1" stroke="#bcbdc1" stroke-width="0.6"/>
<polygon points="4538.8,2692.6 4528.5,2685.1 4528.5,2731.6 4538.8,2739.1" fill="#939498" stroke="#939498" stroke-width="0.6"/>
<polygon points="4575.4,2692.6 4555.5,2695.9 4555.5,2742.4 4575.4,2739.1" fill="#b2b3b7" stroke="#b2b3b7" stroke-width="0.6"/>
<polygon points="4555.5,2695.9 4538.8,2692.6 4538.8,2739.1 4555.5,2742.4" fill="#a5a6aa" stroke="#a5a6aa" stroke-width="0.6"/>
<polygon points="4528.5,2685.1 4518.1,2698.8 4518.1,2745.3 4528.5,2731.6" fill="#c1c2c6" stroke="#c1c2c6" stroke-width="0.6"/>
<polygon points="3514.6,2679.6 3471.4,2699.1 3471.4,2745.6 3514.6,2726.1" fill="#b8b9bd" stroke="#b8b9bd" stroke-width="0.6"/>
<polygon points="3471.4,2699.1 3464.8,2690.8 3464.8,2737.3 3471.4,2745.6" fill="#939498" stroke="#939498" stroke-width="0.6"/>
<polygon points="2808.3,2703.8 2786.2,2681.8 2786.2,2728.3 2808.3,2750.3" fill="#939498" stroke="#939498" stroke-width="0.6"/>
<polygon points="2823,2714.4 2808.3,2703.8 2808.3,2750.3 2823,2760.9" fill="#939498" stroke="#939498" stroke-width="0.6"/>
<polygon points="3988.7,2726.5 3970.8,2729 3970.8,2775.5 3988.7,2773" fill="#b2b3b7" stroke="#b2b3b7" stroke-width="0.6"/>
<polygon points="3464.8,2690.8 3429.5,2732.4 3429.5,2778.9 3464.8,2737.3" fill="#c1c2c6" stroke="#c1c2c6" stroke-width="0.6"/>
<polygon points="4521.4,2719.6 4506.9,2738.3 4506.9,2784.8 4521.4,2766.1" fill="#c1c2c6" stroke="#c1c2c6" stroke-width="0.6"/>
<polygon points="4065.2,2733.3 4018.6,2743.2 4018.6,2789.7 4065.2,2779.8" fill="#b3b4b8" stroke="#b3b4b8" stroke-width="0.6"/>
<polygon points="4018.6,2743.2 4004.1,2744 4004.1,2790.5 4018.6,2789.7" fill="#b0b1b5" stroke="#b0b1b5" stroke-width="0.6"/>
<polygon points="4004.1,2744 3988.7,2726.5 3988.7,2773 4004.1,2790.5" fill="#939498" stroke="#939498" stroke-width="0.6"/>
<polygon points="3970.8,2729 3950,2746.1 3950,2792.6 3970.8,2775.5" fill="#bebfc3" stroke="#bebfc3" stroke-width="0.6"/>
<polygon points="3429.5,2732.4 3414.1,2749 3414.1,2795.5 3429.5,2778.9" fill="#c0c1c5" stroke="#c0c1c5" stroke-width="0.6"/>
<polygon points="2836.7,2752.2 2823,2714.4 2823,2760.9 2836.7,2798.7" fill="#939498" stroke="#939498" stroke-width="0.6"/>
<polygon points="3313.6,2749.8 3299,2755.2 3299,2801.7 3313.6,2796.3" fill="#b7b8bc" stroke="#b7b8bc" stroke-width="0.6"/>
<polygon points="3950,2746.1 3947.1,2756.5 3947.1,2803 3950,2792.6" fill="#c1c2c6" stroke="#c1c2c6" stroke-width="0.6"/>
<polygon points="3414.1,2749 3398.3,2756.5 3398.3,2803 3414.1,2795.5" fill="#b9babe" stroke="#b9babe" stroke-width="0.6"/>
<polygon points="4506.9,2738.3 4484,2757 4484,2803.5 4506.9,2784.8" fill="#bebfc3" stroke="#bebfc3" stroke-width="0.6"/>
<polygon points="2897.1,2757.7 2891.2,2742.2 2891.2,2788.7 2897.1,2804.2" fill="#939498" stroke="#939498" stroke-width="0.6"/>
<polygon points="4484,2757 4468.2,2758.7 4468.2,2805.2 4484,2803.5" fill="#b1b2b6" stroke="#b1b2b6" stroke-width="0.6"/>
<polygon points="4468.2,2758.7 4451.6,2757.8 4451.6,2804.3 4468.2,2805.2" fill="#acadb1" stroke="#acadb1" stroke-width="0.6"/>
<polygon points="2891.2,2742.2 2873.6,2759.7 2873.6,2806.2 2891.2,2788.7" fill="#bfc0c4" stroke="#bfc0c4" stroke-width="0.6"/>
<polygon points="3198.4,2747.5 3191.3,2762 3191.3,2808.5 3198.4,2794" fill="#c1c2c6" stroke="#c1c2c6" stroke-width="0.6"/>
<polygon points="3191.3,2762 3162.3,2762.3 3162.3,2808.8 3191.3,2808.5" fill="#afb0b4" stroke="#afb0b4" stroke-width="0.6"/>
<polygon points="4045.7,2767.4 4043.6,2750.8 4043.6,2797.3 4045.7,2813.9" fill="#939498" stroke="#939498" stroke-width="0.6"/>
<polygon points="3162.3,2762.3 3128.4,2767.8 3128.4,2814.3 3162.3,2808.8" fill="#b2b3b7" stroke="#b2b3b7" stroke-width="0.6"/>
<polygon points="2850.4,2770.9 2836.7,2752.2 2836.7,2798.7 2850.4,2817.4" fill="#939498" stroke="#939498" stroke-width="0.6"/>
<polygon points="4451.6,2757.8 4440.4,2772.8 4440.4,2819.3 4451.6,2804.3" fill="#c1c2c6" stroke="#c1c2c6" stroke-width="0.6"/>
<polygon points="3914.7,2773.9 3910.6,2765.6 3910.6,2812.1 3914.7,2820.4" fill="#939498" stroke="#939498" stroke-width="0.6"/>
<polygon points="3235.7,2774.9 3198.4,2747.5 3198.4,2794 3235.7,2821.4" fill="#939498" stroke="#939498" stroke-width="0.6"/>
<polygon points="3863.6,2775.2 3854.5,2759.4 3854.5,2805.9 3863.6,2821.7" fill="#939498" stroke="#939498" stroke-width="0.6"/>
<polygon points="3854.5,2759.4 3846.2,2775.2 3846.2,2821.7 3854.5,2805.9" fill="#c1c2c6" stroke="#c1c2c6" stroke-width="0.6"/>
<polygon points="3128.4,2767.8 3119.3,2776 3119.3,2822.5 3128.4,2814.3" fill="#bfc0c4" stroke="#bfc0c4" stroke-width="0.6"/>
<polygon points="3119.3,2776 3107,2768.3 3107,2814.8 3119.3,2822.5" fill="#95969a" stroke="#95969a" stroke-width="0.6"/>
<polygon points="3910.6,2765.6 3894,2779.3 3894,2825.8 3910.6,2812.1" fill="#bebfc3" stroke="#bebfc3" stroke-width="0.6"/>
<polygon points="3894,2779.3 3863.6,2775.2 3863.6,2821.7 3894,2825.8" fill="#a8a9ad" stroke="#a8a9ad" stroke-width="0.6"/>
<polygon points="3407,2779.3 3370.5,2781.4 3370.5,2827.9 3407,2825.8" fill="#b0b1b5" stroke="#b0b1b5" stroke-width="0.6"/>
<polygon points="4054.8,2782.8 4045.7,2767.4 4045.7,2813.9 4054.8,2829.3" fill="#939498" stroke="#939498" stroke-width="0.6"/>
<polygon points="3299,2755.2 3294.5,2783 3294.5,2829.5 3299,2801.7" fill="#c1c2c6" stroke="#c1c2c6" stroke-width="0.6"/>
<polygon points="3348.5,2784.3 3313.6,2776.8 3313.6,2823.3 3348.5,2830.8" fill="#a4a5a9" stroke="#a4a5a9" stroke-width="0.6"/>
<polygon points="3245.3,2784.4 3235.7,2774.9 3235.7,2821.4 3245.3,2830.9" fill="#939498" stroke="#939498" stroke-width="0.6"/>
<polygon points="4077.7,2785.3 4054.8,2782.8 4054.8,2829.3 4077.7,2831.8" fill="#a9aaae" stroke="#a9aaae" stroke-width="0.6"/>
<polygon points="3846.2,2775.2 3837,2785.5 3837,2832 3846.2,2821.7" fill="#c1c2c6" stroke="#c1c2c6" stroke-width="0.6"/>
<polygon points="3250,2786.4 3245.3,2784.4 3245.3,2830.9 3250,2832.9" fill="#9c9da1" stroke="#9c9da1" stroke-width="0.6"/>
<polygon points="3707,2787.2 3679.2,2775.2 3679.2,2821.7 3707,2833.7" fill="#9b9ca0" stroke="#9b9ca0" stroke-width="0.6"/>
<polygon points="3294.5,2783 3279.1,2791.8 3279.1,2838.3 3294.5,2829.5" fill="#babbbf" stroke="#babbbf" stroke-width="0.6"/>
<polygon points="3279.1,2791.8 3264.5,2791.8 3264.5,2838.3 3279.1,2838.3" fill="#afb0b4" stroke="#afb0b4" stroke-width="0.6"/>
<polygon points="3264.5,2791.8 3250,2786.4 3250,2832.9 3264.5,2838.3" fill="#9e9fa3" stroke="#9e9fa3" stroke-width="0.6"/>
<polygon points="3370.5,2781.4 3356.8,2793.4 3356.8,2839.9 3370.5,2827.9" fill="#bebfc3" stroke="#bebfc3" stroke-width="0.6"/>
<polygon points="3356.8,2793.4 3348.5,2784.3 3348.5,2830.8 3356.8,2839.9" fill="#939498" stroke="#939498" stroke-width="0.6"/>
<polygon points="2854.1,2794.3 2850.4,2770.9 2850.4,2817.4 2854.1,2840.8" fill="#939498" stroke="#939498" stroke-width="0.6"/>
<polygon points="4087.2,2794.4 4077.7,2785.3 4077.7,2831.8 4087.2,2840.9" fill="#939498" stroke="#939498" stroke-width="0.6"/>
<polygon points="2928.5,2796.5 2897.1,2757.7 2897.1,2804.2 2928.5,2843" fill="#939498" stroke="#939498" stroke-width="0.6"/>
<polygon points="3950,2773.9 3948,2797.6 3948,2844.1 3950,2820.4" fill="#c1c2c6" stroke="#c1c2c6" stroke-width="0.6"/>
<polygon points="3912.7,2798.8 3911.8,2784.3 3911.8,2830.8 3912.7,2845.3" fill="#939498" stroke="#939498" stroke-width="0.6"/>
<polygon points="4319.9,2799.8 4296.2,2792.3 4296.2,2838.8 4319.9,2846.3" fill="#a0a1a5" stroke="#a0a1a5" stroke-width="0.6"/>
<polygon points="3733.2,2800.1 3707,2787.2 3707,2833.7 3733.2,2846.6" fill="#999a9e" stroke="#999a9e" stroke-width="0.6"/>
<polygon points="3838.7,2793.9 3825.4,2800.9 3825.4,2847.4 3838.7,2840.4" fill="#babbbf" stroke="#babbbf" stroke-width="0.6"/>
<polygon points="3948,2797.6 3930.1,2801.7 3930.1,2848.2 3948,2844.1" fill="#b4b5b9" stroke="#b4b5b9" stroke-width="0.6"/>
<polygon points="3930.1,2801.7 3912.7,2798.8 3912.7,2845.3 3930.1,2848.2" fill="#a7a8ac" stroke="#a7a8ac" stroke-width="0.6"/>
<polygon points="4101.8,2804.8 4087.2,2794.4 4087.2,2840.9 4101.8,2851.3" fill="#939498" stroke="#939498" stroke-width="0.6"/>
<polygon points="3825.4,2800.9 3805.5,2805.9 3805.5,2852.4 3825.4,2847.4" fill="#b4b5b9" stroke="#b4b5b9" stroke-width="0.6"/>
<polygon points="3805.5,2805.9 3788,2804.2 3788,2850.7 3805.5,2852.4" fill="#aaabaf" stroke="#aaabaf" stroke-width="0.6"/>
<polygon points="3788,2804.2 3775.6,2807.1 3775.6,2853.6 3788,2850.7" fill="#b4b5b9" stroke="#b4b5b9" stroke-width="0.6"/>
<polygon points="3775.6,2807.1 3760.2,2802.2 3760.2,2848.7 3775.6,2853.6" fill="#a0a1a5" stroke="#a0a1a5" stroke-width="0.6"/>
<polygon points="2890.7,2798 2886.4,2807.5 2886.4,2854 2890.7,2844.5" fill="#c1c2c6" stroke="#c1c2c6" stroke-width="0.6"/>
<polygon points="4443.3,2797.3 4430,2807.7 4430,2854.2 4443.3,2843.8" fill="#bdbec2" stroke="#bdbec2" stroke-width="0.6"/>
<polygon points="4117.6,2807.7 4101.8,2804.8 4101.8,2851.3 4117.6,2854.2" fill="#a6a7ab" stroke="#a6a7ab" stroke-width="0.6"/>
<polygon points="4296.2,2792.3 4283.8,2808.9 4283.8,2855.4 4296.2,2838.8" fill="#c1c2c6" stroke="#c1c2c6" stroke-width="0.6"/>
<polygon points="2948.3,2809.9 2928.5,2796.5 2928.5,2843 2948.3,2856.4" fill="#949599" stroke="#949599" stroke-width="0.6"/>
<polygon points="3760.2,2802.2 3751.9,2814.6 3751.9,2861.1 3760.2,2848.7" fill="#c1c2c6" stroke="#c1c2c6" stroke-width="0.6"/>
<polygon points="3751.9,2814.6 3733.2,2800.1 3733.2,2846.6 3751.9,2861.1" fill="#939498" stroke="#939498" stroke-width="0.6"/>
<polygon points="2868.7,2816.3 2854.1,2794.3 2854.1,2840.8 2868.7,2862.8" fill="#939498" stroke="#939498" stroke-width="0.6"/>
<polygon points="4283.8,2808.9 4256.3,2816.4 4256.3,2862.9 4283.8,2855.4" fill="#b5b6ba" stroke="#b5b6ba" stroke-width="0.6"/>
<polygon points="4430,2807.7 4416.7,2819.3 4416.7,2865.8 4430,2854.2" fill="#bebfc3" stroke="#bebfc3" stroke-width="0.6"/>
<polygon points="4358.1,2819.3 4319.9,2799.8 4319.9,2846.3 4358.1,2865.8" fill="#999a9e" stroke="#999a9e" stroke-width="0.6"/>
<polygon points="4416.7,2819.3 4384.3,2821.4 4384.3,2867.9 4416.7,2865.8" fill="#b0b1b5" stroke="#b0b1b5" stroke-width="0.6"/>
<polygon points="4384.3,2821.4 4358.1,2819.3 4358.1,2865.8 4384.3,2867.9" fill="#abacb0" stroke="#abacb0" stroke-width="0.6"/>
<polygon points="4133.8,2822.6 4117.6,2807.7 4117.6,2854.2 4133.8,2869.1" fill="#939498" stroke="#939498" stroke-width="0.6"/>
<polygon points="2961.1,2823 2948.3,2809.9 2948.3,2856.4 2961.1,2869.5" fill="#939498" stroke="#939498" stroke-width="0.6"/>
<polygon points="4149.6,2825.1 4133.8,2822.6 4133.8,2869.1 4149.6,2871.6" fill="#a7a8ac" stroke="#a7a8ac" stroke-width="0.6"/>
<polygon points="4162.9,2831 4149.6,2825.1 4149.6,2871.6 4162.9,2877.5" fill="#9b9ca0" stroke="#9b9ca0" stroke-width="0.6"/>
<polygon points="4256.3,2816.4 4245.1,2833 4245.1,2879.5 4256.3,2862.9" fill="#c1c2c6" stroke="#c1c2c6" stroke-width="0.6"/>
<polygon points="2908.6,2824.9 2894.3,2834.2 2894.3,2880.7 2908.6,2871.4" fill="#bcbdc1" stroke="#bcbdc1" stroke-width="0.6"/>
<polygon points="2880.6,2841.3 2868.7,2816.3 2868.7,2862.8 2880.6,2887.8" fill="#939498" stroke="#939498" stroke-width="0.6"/>
<polygon points="2990.3,2846.4 2961.1,2823 2961.1,2869.5 2990.3,2892.9" fill="#939498" stroke="#939498" stroke-width="0.6"/>
<polygon points="2909.9,2847.9 2880.6,2841.3 2880.6,2887.8 2909.9,2894.4" fill="#a4a5a9" stroke="#a4a5a9" stroke-width="0.6"/>
<polygon points="2936.9,2848.3 2909.9,2847.9 2909.9,2894.4 2936.9,2894.8" fill="#aeafb3" stroke="#aeafb3" stroke-width="0.6"/>
<polygon points="4214,2853.4 4197.3,2850.5 4197.3,2897 4214,2899.9" fill="#a6a7ab" stroke="#a6a7ab" stroke-width="0.6"/>
<polygon points="4197.3,2850.5 4173.2,2854.6 4173.2,2901.1 4197.3,2897" fill="#b3b4b8" stroke="#b3b4b8" stroke-width="0.6"/>
<polygon points="4173.2,2854.6 4162.9,2831 4162.9,2877.5 4173.2,2901.1" fill="#939498" stroke="#939498" stroke-width="0.6"/>
<polygon points="4231.4,2858 4214,2853.4 4214,2899.9 4231.4,2904.5" fill="#a2a3a7" stroke="#a2a3a7" stroke-width="0.6"/>
<polygon points="3121.1,2822.7 3095.5,2859.2 3095.5,2905.7 3121.1,2869.2" fill="#c1c2c6" stroke="#c1c2c6" stroke-width="0.6"/>
<polygon points="4252.6,2844.2 4248,2859.6 4248,2906.1 4252.6,2890.7" fill="#c1c2c6" stroke="#c1c2c6" stroke-width="0.6"/>
<polygon points="4248,2859.6 4231.4,2858 4231.4,2904.5 4248,2906.1" fill="#aaabaf" stroke="#aaabaf" stroke-width="0.6"/>
<polygon points="3019.6,2863.4 2990.3,2846.4 2990.3,2892.9 3019.6,2909.9" fill="#96979b" stroke="#96979b" stroke-width="0.6"/>
<polygon points="3095.5,2859.2 3085.8,2875.7 3085.8,2922.2 3095.5,2905.7" fill="#c1c2c6" stroke="#c1c2c6" stroke-width="0.6"/>
<polygon points="3074.1,2884.5 3019.6,2863.4 3019.6,2909.9 3074.1,2931" fill="#9d9ea2" stroke="#9d9ea2" stroke-width="0.6"/>
<polygon points="3090.9,2898.6 3074.1,2884.5 3074.1,2931 3090.9,2945.1" fill="#939498" stroke="#939498" stroke-width="0.6"/>
</g>
<polygon points="411.7,1296.2 424.8,1305.8 424.8,1321.9 429.5,1328.7 442.1,1325 457.6,1339.3 467,1339.3 479,1339.7 485.6,1350.2 498,1347.6 510.1,1346.4 510.4,1356 524.7,1365.4 535.5,1369.3 550.1,1360.4 558.2,1356.9 572.8,1355.4 572.2,1344.3 579.9,1340.3 591.7,1345.5 607.2,1351.1 630.2,1354.8 638.9,1368.5 645.7,1357.3 635.1,1340.5 622.1,1321.9 608.4,1305.2 596.7,1295.9 583.6,1287.8 581.1,1278.5 567.7,1269.8 566.2,1262.1 555.1,1262.1 547,1264.2 476.9,1252.4 407.4,1287.2" fill="#e7e8ea"/>
<polygon points="656,406.6 667.6,401.9 693.9,409.6 717.2,403.6 730.6,397.6 744.9,398.3 762.2,396.6 776.5,400.6 794.2,419.3 807.2,431.9 825.5,439.9 847.5,441.9 855.8,462.2 856.5,473.9 853.8,484.9 854.5,496.5 856.5,508.2 854.1,520.8 833.1,509.2 812.2,502.2 818.8,514.5 812.5,534.8 811.2,544.2 817.2,559.8 818.2,569.8 885.8,597.5 917.4,618.1 943,629.8 983.7,653.1 996.3,671.1 1002,689.7 1006.7,707.4 999,717.4 999,727.3 1009.7,734.7 1001.7,746.7 1001,769.6 998.7,785.6 989,796.3 998.7,819.6 1002,836.3 1002,842.9 1023,845.6 1059.6,836.9 1068.9,827.3 1076.9,817.3 1076.3,802.9 1087.3,782 1117.2,751.3 1128.6,746.3 1134.6,737.3 1148.9,731.3 1160.5,719.7 1166.2,703.7 1180.8,701 1223.8,668.1 1256.1,615.8 1257.1,582.1 1276.8,546.5 1289.4,542.5 1279.4,523.2 1296.8,519.2 1301.4,487.5 1336.7,473.9 1350,464.2 1378.7,461.6 1400,450.9 1412.3,443.6 1433.1,431.9 1449.7,438.2 1457.2,461.8 1473.8,505.9 1491.3,535.8 1507.9,543.7 1559.8,550.8 1563.5,564 1561.9,575.3 1561.9,608.5 1566.9,620.1 1579.7,625.1 1588.9,641.7 1620,674.6 1661.6,680.8 1708.1,684.1 1735.5,683.7 1758.8,689.9 1758.8,731.1 1748.8,755.2 1784.2,762.6 1809.1,764.7 1827.8,769.3 1854.8,769.3 1863.1,776.8 1890.1,779.7 1915,776.8 1938.7,770.5 1944.9,779.7 1945.3,792.1 1958.6,817.1 1967,835.8 1965.7,853.6 1969,876.5 1975.3,900.6 2008.5,917.2 2031.3,913 2055,907.6 2072.9,904.7 2088.7,922.2 2104.1,938 2120.7,948.3 2130.2,955.4 2156.8,940.9 2189.2,943.8 2202.5,948.3 2217.1,958.7 2234.1,955.8 2248.6,967.9 2263.2,960.8 2290.7,978.9 2307.6,986.4 2324.4,995.7 2361.3,1000.2 2387.4,1008.3 2397.8,1017.1 2396.5,996 2400.3,972.8 2414.5,962.5 2425.6,969.9 2449.3,972.8 2473.8,957.8 2498.3,956.8 2508.8,956.5 2515.3,938.5 2501.2,932.7 2505.8,914.5 2486.7,903.8 2480.7,887.7 2457.9,873.6 2443.3,861.9 2411,806.5 2427.4,812.2 2449.8,813.7 2457,805.1 2461.9,795.6 2467.6,786.4 2467.6,762 2459.9,747.6 2444.7,743.3 2421.1,696.7 2424,676.6 2412.5,667.1 2400.1,645.6 2400.1,629.8 2405.3,619.1 2405.3,605.3 2414.5,594.4 2420.2,586.7 2430.3,562.8 2420.8,556.5 2412.2,545 2405.3,526.9 2406.4,512.8 2419.4,514 2431.1,516.8 2442.4,511.1 2447,501 2472.5,501.9 2512.2,470.3 2524.3,456.8 2545.2,445 2568.2,456.8 2590.6,477.5 2589.8,506.2 2592.6,529.2 2594.7,550.7 2597.8,570.9 2614.8,593 2608.4,614 2593.5,613.1 2580.6,629.8 2584,651.3 2584,672.9 2606.1,698.2 2612.8,716 2609,736.1 2596.1,753.3 2594.9,769.1 2585.5,778.6 2577.4,815.1 2590.1,805.3 2625.3,809.5 2650.2,792.9 2690.7,772.6 2733.1,756.3 2769.1,751.7 2797.2,743.2 2830,735 2840,690 2822,632 2812.9,620.5 2815.8,615.6 2837.4,583.2 2840.7,557.8 2839.4,540.1 2815.8,500.9 2817.2,492.1 2818.8,485.2 2831.5,480.3 2842.3,472.5 2843.9,458.8 2889.7,469.2 2892.3,453.9 2901.1,447 2915.8,457.8 2931.5,475.4 2963.8,488.8 2987.3,487.2 3338.8,519.3 3351.8,529.7 3367.1,537.7 3389,546.9 3404.7,551.3 3419.3,558 3439.2,570.1 3458,569.7 3486.2,575.5 3495.2,582.6 3512.8,585.6 3533.2,582 3549.3,597.3 3565.6,606.7 3586.5,606.7 3628.3,610.6 3644,611.3 3662.2,622.3 3682.7,623.2 3697.3,626.9 3719.3,636.3 3739.1,641.2 3750,642.2 3769.5,645.4 3791.9,642.1 3793.2,633.8 3810.6,631.3 3824.3,625.5 3834.7,621.3 3848.4,610.5 3854.7,619.2 3845.1,623.8 3867.1,625.9 3881.3,651.6 3892.9,653.7 3909.5,658.7 3923.2,666.2 3929.5,684.9 3930.7,701.5 3936.9,714 3910.8,730.6 3936.5,731.4 3954.4,735.6 3968.5,748.4 3955.2,756.8 3956,765.9 3968.5,773.4 3989.7,760.5 3992.6,778.4 3997.6,797.9 4015.5,800 4022.5,808.7 4022.9,832.4 4019.6,838.6 4034.2,833.6 4042.5,862.7 4070.3,852.3 4083.2,868.5 4084.8,890.5 4096.5,900.9 4125.6,900.9 4101.5,923.8 4097.3,936.2 4098.5,948.7 4079.9,988.2 4070.3,1000.6 4088.2,1016.4 4103.9,1031.8 4108.9,1042.2 4111,1053.4 4128.5,1069.2 4135.9,1079.6 4147.6,1089.9 4156.8,1100 4161.7,1106.2 4173,1128.3 4175.9,1139.5 4197.1,1154 4217,1174 4228.2,1183.1 4244.8,1188.5 4259.4,1187.7 4278.9,1196.8 4279.3,1208 4288.5,1215.5 4307.1,1215.5 4327.9,1219.2 4342.5,1234.2 4359.9,1250.8 4359.9,1261.2 4332.9,1273.2 4316.7,1284.9 4319.6,1303.6 4315.5,1318.1 4298.8,1342.2 4299.7,1359.7 4296.8,1374.2 4295.5,1386.7 4308.4,1401.2 4310.5,1431.5 4319.6,1438.6 4337.5,1445.7 4355.8,1439 4366.1,1457.3 4366.1,1471 4349.9,1482.2 4348.7,1490.5 4372.8,1498.8 4391.1,1520.4 4403.9,1527.9 4418.1,1544.5 4426.4,1559.1 4433.9,1575.7 4435.1,1591.5 4447.6,1597.7 4438,1613.1 4421.4,1622.6 4403.9,1632.6 4394.4,1640.9 4399.8,1652.6 4419.3,1662.9 4435.1,1677.5 4456.7,1691.2 4463.2,1700 4471.5,1712.5 4474.9,1724.1 4462,1762.3 4458.2,1781 4436.2,1794.7 4432.9,1800.5 4436.2,1808.8 4433.3,1821.3 4446.6,1811.3 4473.6,1805.9 4494.4,1811.3 4513.1,1826.7 4523.5,1844.2 4532.6,1855.8 4531.8,1868.3 4513.1,1898.6 4510.2,1911.1 4522.6,1927.7 4532.6,1938.9 4518.1,1952.6 4531.8,1961.7 4518.5,1983.8 4505.6,1990.8 4492.3,1995 4503.5,1999.1 4511,2015.7 4517.2,2031.1 4518.1,2042.8 4538.8,2041.9 4545.5,2059.4 4541.3,2078.1 4550.5,2092.6 4551.7,2138.3 4539.3,2153.7 4471.5,2155.8 4461.2,2159.9 4464.5,2173.6 4464.1,2191.1 4446.6,2204.8 4464.1,2219.3 4475.7,2235.1 4491.1,2247.2 4494.4,2281.6 4485.9,2300.4 4494.8,2311.1 4499.3,2317.8 4508.2,2355.1 4523.7,2381 4521.7,2402.1 4505.5,2389.3 4503.3,2426.6 4500.4,2436.6 4463.7,2457 4455.5,2482.1 4454.9,2491 4448.2,2509.8 4450,2524.3 4455.5,2532.7 4466.6,2542 4466.2,2551.4 4452.9,2560.9 4455.5,2569.8 4466.6,2578.7 4483.3,2585.8 4495.9,2573.6 4503.7,2562 4508.2,2528.1 4521.5,2519.8 4534.4,2521 4554.3,2534.3 4593.2,2564.9 4623.2,2580.9 4627.6,2589.8 4612.8,2622 4605.3,2645.7 4603.7,2667.7 4594.9,2681.4 4584.5,2686.4 4575.4,2692.6 4555.5,2695.9 4538.8,2692.6 4528.5,2685.1 4518.1,2698.8 4521.4,2719.6 4506.9,2738.3 4484,2757 4468.2,2758.7 4451.6,2757.8 4440.4,2772.8 4443.3,2797.3 4430,2807.7 4416.7,2819.3 4384.3,2821.4 4358.1,2819.3 4319.9,2799.8 4296.2,2792.3 4283.8,2808.9 4256.3,2816.4 4245.1,2833 4252.6,2844.2 4248,2859.6 4231.4,2858 4214,2853.4 4197.3,2850.5 4173.2,2854.6 4162.9,2831 4149.6,2825.1 4133.8,2822.6 4117.6,2807.7 4101.8,2804.8 4087.2,2794.4 4077.7,2785.3 4054.8,2782.8 4045.7,2767.4 4043.6,2750.8 4059,2743.7 4065.2,2733.3 4018.6,2743.2 4004.1,2744 3988.7,2726.5 3970.8,2729 3950,2746.1 3947.1,2756.5 3950,2773.9 3948,2797.6 3930.1,2801.7 3912.7,2798.8 3911.8,2784.3 3914.7,2773.9 3910.6,2765.6 3894,2779.3 3863.6,2775.2 3854.5,2759.4 3846.2,2775.2 3837,2785.5 3838.7,2793.9 3825.4,2800.9 3805.5,2805.9 3788,2804.2 3775.6,2807.1 3760.2,2802.2 3751.9,2814.6 3733.2,2800.1 3707,2787.2 3679.2,2775.2 3704.1,2748.2 3726.5,2727.4 3734.8,2708.7 3737.3,2686.7 3742.3,2670.9 3749.8,2657.6 3753.5,2643.9 3767.2,2621.9 3753.9,2626.4 3744.4,2633.9 3726.5,2639.7 3715.3,2651.4 3702.8,2651.4 3680.8,2634.7 3666.7,2654.7 3657.1,2673.4 3642.6,2683.8 3613.5,2682.5 3592.8,2673.4 3574.9,2677.1 3557.4,2668.8 3514.6,2679.6 3471.4,2699.1 3464.8,2690.8 3429.5,2732.4 3414.1,2749 3398.3,2756.5 3398.3,2770.6 3407,2779.3 3370.5,2781.4 3356.8,2793.4 3348.5,2784.3 3313.6,2776.8 3313.6,2749.8 3299,2755.2 3294.5,2783 3279.1,2791.8 3264.5,2791.8 3250,2786.4 3245.3,2784.4 3235.7,2774.9 3198.4,2747.5 3191.3,2762 3162.3,2762.3 3128.4,2767.8 3119.3,2776 3107,2768.3 3109.2,2793.8 3119.3,2810.8 3121.1,2822.7 3095.5,2859.2 3085.8,2875.7 3090.9,2898.6 3074.1,2884.5 3019.6,2863.4 2990.3,2846.4 2961.1,2823 2948.3,2809.9 2928.5,2796.5 2897.1,2757.7 2891.2,2742.2 2873.6,2759.7 2878.8,2773.3 2887,2789.7 2888.8,2791.9 2890.7,2798 2886.4,2807.5 2891,2824.1 2908.6,2824.9 2894.3,2834.2 2908.9,2842.4 2936.9,2848.3 2909.9,2847.9 2880.6,2841.3 2868.7,2816.3 2854.1,2794.3 2850.4,2770.9 2836.7,2752.2 2823,2714.4 2808.3,2703.8 2786.2,2681.8 2766.7,2664 2759.2,2679.3 2738.5,2670.2 2718.1,2664 2700.2,2666.9 2670.7,2668.5 2650,2667.7 2633.3,2664.8 2611.7,2656.9 2592.6,2644.4 2580.6,2653.6 2565.2,2670.2 2546.1,2670.2 2526.6,2665.2 2505,2661.9 2485.9,2648.2 2481.3,2630.7 2478.8,2610 2473.8,2587.1 2468.4,2566.3 2458.8,2549.7 2453.9,2529.8 2428.9,2491.5 2417.3,2474.1 2399.8,2463.1 2349.9,2444.4 2345.7,2434 2315.4,2449.4 2287.6,2446.5 2239.8,2433.6 2224.4,2435.3 2183.7,2421.5 2133.9,2417.4 2127.6,2395.8 2084,2392.5 2076.5,2376.7 2089,2370.9 2052,2338.5 2022.9,2322.7 1994.7,2314.4 1982.2,2299.8 1965.6,2297.7 1949.8,2288.6 1937.3,2262.4 1919.1,2260.3 1901.2,2237.9 1883.8,2229.2 1854.7,2209.7 1833.5,2199.3 1832.7,2184.7 1803.6,2148.6 1800.7,2141.9 1780.7,2140.7 1762,2141.5 1743.3,2153.6 1724.6,2148.6 1710.1,2137 1701,2087.1 1699.7,2051.8 1689.3,2018.6 1685.2,1988.2 1673.8,1960.7 1661.3,1923.3 1653.8,1890.1 1650.9,1867.2 1642.6,1844.4 1639.7,1813.2 1631.4,1775.8 1596.1,1732.2 1582.4,1706.5 1545.8,1672 1523,1636.7 1519.2,1612.6 1482.7,1561.9 1452.3,1507.9 1437,1492.5 1404.5,1492.1 1372.6,1478.8 1357.2,1453.9 1360.9,1428.1 1359.3,1409.4 1309.4,1349.2 1193,1224.5 1120.3,1168.5 1062.2,1124.8 1016.5,1091.6 998.6,1069.6 997.8,1025.1 998.6,975.3 1001.1,917.1 999,885.9 997.8,854.8 999,844.6 979.7,817.9 969.7,800.3 959.7,787.3 946.4,734.7 934.1,703 889.1,646.4 843.1,602.4 820.5,597.1 798.2,597.5 775.9,610.8 762.5,619.8 733.9,593.8 722.6,573.1 698.6,539.8 675.9,525.8 662.3,515.5 662.3,499.2 670.9,480.9 678.6,473.2 686.6,465.9 693.3,452.6 682.6,432.3 668.9,413.3" fill="#e7e8ea"/>
<polygon points="1967.1,1408.2 3171,2104.7 3484.1,1924.3 3597.5,1989.1 2852.5,2421 2739.1,2356.2 3052.2,2172.7 1961.7,1544.3 1789,1805.6 1666.9,1735.4 1848.3,1474.1" fill="#dadadc"/>
<path fill-rule="evenodd" fill="#dadadc" d="M2857.9 893.2 L3834.7 1459.1 L3948.3 1394.4 L4060.4 1459.1 L3946.8 1526.4 L4173.6 1656 L4056.5 1725.7 L3828.2 1594.7 L3296.5 1900.2 L3240.7 1867.8 L2798.5 927.7 Z M3066.1 1153.4 L3715.1 1527.9 L3351.3 1738.2 Z"/>
<g transform="matrix(0.8660254,-0.5,0.8660254,0.5,0,0)" fill="#9e9fa2" font-family="&quot;Liberation Sans&quot;, Arial, sans-serif" font-size="175" stroke="#9e9fa2" stroke-width="1.2" stroke-linejoin="round">
<text x="103.5" y="4060.5" textLength="893" lengthAdjust="spacingAndGlyphs">RECYCLERIES</text>
<text x="105.5" y="4264.5" textLength="749.5" lengthAdjust="spacingAndGlyphs">EN VENDÉE</text>
</g>
<g id="shadows" opacity="0.092" fill="#000">
<polygon points="2797.3,722.3 2734.1,756.8 2952.5,883.2 3037.2,833.8 3124.6,782.7 2982.6,700.8"/>
<polygon points="1454.5,1040.2 1391.3,1074.7 1609.7,1201.1 1694.4,1151.7 1781.8,1100.6 1639.8,1018.7"/>
<polygon points="219,1202.7 155.8,1237.2 374.2,1363.6 458.9,1314.2 546.3,1263.1 404.3,1181.2"/>
<polygon points="3062.4,1240.2 2999.2,1274.7 3217.6,1401.1 3302.3,1351.7 3389.7,1300.6 3247.7,1218.7"/>
<polygon points="1420.7,1280.6 1357.5,1315.1 1575.9,1441.5 1660.6,1392.1 1748,1341 1606,1259.1"/>
<polygon points="1975,1470 1911.8,1504.5 2130.2,1630.9 2214.9,1581.5 2302.3,1530.4 2160.3,1448.5"/>
<polygon points="2571.5,1718.3 2508.3,1752.8 2726.7,1879.2 2811.4,1829.8 2898.8,1778.7 2756.8,1696.8"/>
<polygon points="1753.5,1885.5 1690.3,1920 1908.7,2046.4 1993.4,1997 2080.8,1945.9 1938.8,1864"/>
<polygon points="3926,2226.1 3862.8,2260.6 4081.2,2387 4165.9,2337.6 4253.3,2286.5 4111.3,2204.6"/>
<polygon points="1990.5,2248.2 1927.3,2282.7 2145.7,2409.1 2230.4,2359.7 2317.8,2308.6 2175.8,2226.7"/>
<polygon points="4029.9,2549.3 3966.7,2583.8 4185.1,2710.2 4269.8,2660.8 4357.2,2609.7 4215.2,2527.8"/>
</g>
<g class="bldg-blue" transform="translate(2940,220) scale(0.28736)">
<polygon points="165,530 450,612 778,882 778,1380 165,1030" fill="#4753a4"/>
<polygon points="245,690 650,925 650,1305 245,1075" fill="#e7e8ea"/>
<polygon points="245,690 278,710 278,1058 245,1040" fill="#33469a"/>
<polygon points="245,1040 278,1022 278,1058 245,1075" fill="#a8aaac"/>
<polygon points="278,710 650,925 650,1272 278,1060" fill="#cfd0d1"/>
<polygon points="278,750 650,965 650,977 278,762" fill="#a6a8aa"/>
<polygon points="278,794 650,1009 650,1021 278,806" fill="#a6a8aa"/>
<polygon points="278,838 650,1053 650,1065 278,850" fill="#a6a8aa"/>
<polygon points="278,882 650,1097 650,1109 278,894" fill="#a6a8aa"/>
<polygon points="278,926 650,1141 650,1153 278,938" fill="#a6a8aa"/>
<polygon points="278,970 650,1185 650,1197 278,982" fill="#a6a8aa"/>
<polygon points="278,1014 650,1229 650,1241 278,1026" fill="#a6a8aa"/>
<polygon points="165,995 245,1040 245,1075 165,1030" fill="#ffffff"/>
<polygon points="650,1270 778,1345 778,1380 650,1305" fill="#ffffff"/>
<path d="M394,772 C392,745 420,732 440,742 C462,752 474,778 470,808 L438,802 C418,798 398,790 394,772 Z" fill="#46494b"/>
<path d="M394,772 C392,745 420,732 440,742 C420,755 410,775 412,792 C402,788 395,780 394,772 Z" fill="#6e6f72"/>
<polygon points="778,882 1393,530 1393,1000 778,1345" fill="#33469a"/>
<polygon points="778,1345 1393,1000 1393,1035 778,1380" fill="#a8aaac"/>
<polygon points="1085,770 1213,692 1213,757 1085,835" fill="#d8d9da"/>
<polygon points="1085,770 1190,706 1190,756 1085,820" fill="#b2b4b6"/>
<polygon points="1190,706 1213,692 1213,757 1190,756" fill="#8f9193"/>
<polygon points="1238,680 1366,602 1366,667 1238,745" fill="#d8d9da"/>
<polygon points="1238,680 1343,616 1343,666 1238,730" fill="#b2b4b6"/>
<polygon points="1343,616 1366,602 1366,667 1343,666" fill="#8f9193"/>
<polygon points="165,508 778,152 1062,232 450,590" fill="#6e6f72"/>
<polygon points="450,590 1062,232 1393,508 778,858" fill="#46494b"/>
<polygon points="177.5,500.7 188.7,494.2 473.6,576.2 462.5,582.7" fill="#909193"/>
<polygon points="463.9,581.9 471.7,577.3 799.8,845.6 792,850" fill="#5e6062"/>
<polygon points="205.4,484.5 216.5,478.1 501.5,559.9 490.3,566.4" fill="#909193"/>
<polygon points="491.7,565.6 499.5,561 827.8,829.7 819.9,834.1" fill="#5e6062"/>
<polygon points="233.3,468.4 244.4,461.9 529.3,543.6 518.2,550.1" fill="#909193"/>
<polygon points="519.5,549.3 527.3,544.8 855.7,813.8 847.9,818.2" fill="#5e6062"/>
<polygon points="261.1,452.2 272.3,445.7 557.1,527.4 546,533.9" fill="#909193"/>
<polygon points="547.4,533 555.2,528.5 883.7,797.9 875.8,802.3" fill="#5e6062"/>
<polygon points="289,436 300.1,429.5 584.9,511.1 573.8,517.6" fill="#909193"/>
<polygon points="575.2,516.8 583,512.2 911.6,782 903.8,786.4" fill="#5e6062"/>
<polygon points="316.9,419.8 328,413.3 612.7,494.8 601.6,501.3" fill="#909193"/>
<polygon points="603,500.5 610.8,495.9 939.6,766 931.8,770.5" fill="#5e6062"/>
<polygon points="344.7,403.6 355.9,397.2 640.6,478.5 629.4,485" fill="#909193"/>
<polygon points="630.8,484.2 638.6,479.7 967.5,750.1 959.7,754.6" fill="#5e6062"/>
<polygon points="372.6,387.4 383.7,381 668.4,462.3 657.2,468.8" fill="#909193"/>
<polygon points="658.6,468 666.4,463.4 995.5,734.2 987.7,738.7" fill="#5e6062"/>
<polygon points="400.4,371.3 411.6,364.8 696.2,446 685.1,452.5" fill="#909193"/>
<polygon points="686.5,451.7 694.2,447.1 1023.4,718.3 1015.6,722.8" fill="#5e6062"/>
<polygon points="428.3,355.1 439.5,348.6 724,429.7 712.9,436.2" fill="#909193"/>
<polygon points="714.3,435.4 722.1,430.9 1051.4,702.4 1043.6,706.9" fill="#5e6062"/>
<polygon points="456.2,338.9 467.3,332.4 751.8,413.4 740.7,420" fill="#909193"/>
<polygon points="742.1,419.1 749.9,414.6 1079.3,686.5 1071.5,691" fill="#5e6062"/>
<polygon points="484,322.7 495.2,316.2 779.6,397.2 768.5,403.7" fill="#909193"/>
<polygon points="769.9,402.9 777.7,398.3 1107.3,670.6 1099.5,675" fill="#5e6062"/>
<polygon points="511.9,306.5 523,300.1 807.5,380.9 796.3,387.4" fill="#909193"/>
<polygon points="797.7,386.6 805.5,382 1135.3,654.7 1127.4,659.1" fill="#5e6062"/>
<polygon points="539.8,290.4 550.9,283.9 835.3,364.6 824.2,371.1" fill="#909193"/>
<polygon points="825.5,370.3 833.3,365.8 1163.2,638.8 1155.4,643.2" fill="#5e6062"/>
<polygon points="567.6,274.2 578.8,267.7 863.1,348.4 852,354.9" fill="#909193"/>
<polygon points="853.4,354 861.2,349.5 1191.2,622.9 1183.3,627.3" fill="#5e6062"/>
<polygon points="595.5,258 606.6,251.5 890.9,332.1 879.8,338.6" fill="#909193"/>
<polygon points="881.2,337.8 889,333.2 1219.1,607 1211.3,611.4" fill="#5e6062"/>
<polygon points="623.4,241.8 634.5,235.3 918.7,315.8 907.6,322.3" fill="#909193"/>
<polygon points="909,321.5 916.8,316.9 1247.1,591 1239.2,595.5" fill="#5e6062"/>
<polygon points="651.2,225.6 662.4,219.2 946.6,299.5 935.4,306" fill="#909193"/>
<polygon points="936.8,305.2 944.6,300.7 1275,575.1 1267.2,579.6" fill="#5e6062"/>
<polygon points="679.1,209.4 690.2,203 974.4,283.3 963.2,289.8" fill="#909193"/>
<polygon points="964.6,289 972.4,284.4 1303,559.2 1295.2,563.7" fill="#5e6062"/>
<polygon points="706.9,193.3 718.1,186.8 1002.2,267 991.1,273.5" fill="#909193"/>
<polygon points="992.5,272.7 1000.2,268.1 1330.9,543.3 1323.1,547.8" fill="#5e6062"/>
<polygon points="734.8,177.1 746,170.6 1030,250.7 1018.9,257.2" fill="#909193"/>
<polygon points="1020.3,256.4 1028.1,251.9 1358.9,527.4 1351.1,531.9" fill="#5e6062"/>
<polygon points="762.7,160.9 773.8,154.4 1057.8,234.4 1046.7,240.9" fill="#909193"/>
<polygon points="1048.1,240.1 1055.9,235.6 1386.8,511.5 1379,516" fill="#5e6062"/>
<polygon points="778,858 1393,508 1393,530 778,882" fill="#a2a4a6"/>
<polygon points="165,508 450,590 778,858 778,882 450,612 165,530" fill="#ffffff"/>
</g>
<g class="bldg-red" transform="translate(2718.3,499.6) scale(0.28736)">
<polygon points="275,483 600,575 920,850 920,1275 275,905" fill="#d3d5d4"/>
<polygon points="275,685 920,1055 920,1185 275,815" fill="#db4d45"/>
<polygon points="920,850 1575,475 1575,890 920,1275" fill="#f2f2f0"/>
<polygon points="920,1055 1575,680 1575,810 920,1185" fill="#df5f58"/>
<polygon points="1098,900 1425,715 1425,980 1098,1170" fill="#de5c56"/>
<polygon points="1108,908 1416,731 1416,987 1108,1168" fill="#d0d4d5"/>
<polygon points="1110,912 1360,768 1360,955 1110,1100" fill="#efece7"/>
<line x1="1110" y1="935.5" x2="1360" y2="791.5" stroke="#d9d6d0" stroke-width="3"/>
<line x1="1110" y1="959" x2="1360" y2="815" stroke="#d9d6d0" stroke-width="3"/>
<line x1="1110" y1="982.5" x2="1360" y2="838.5" stroke="#d9d6d0" stroke-width="3"/>
<line x1="1110" y1="1006" x2="1360" y2="862" stroke="#d9d6d0" stroke-width="3"/>
<line x1="1110" y1="1029.5" x2="1360" y2="885.5" stroke="#d9d6d0" stroke-width="3"/>
<line x1="1110" y1="1053" x2="1360" y2="909" stroke="#d9d6d0" stroke-width="3"/>
<line x1="1110" y1="1076.5" x2="1360" y2="932.5" stroke="#d9d6d0" stroke-width="3"/>
<polygon points="1110,912 1360,768 1360,790 1110,934" fill="#dcdbd6" opacity="0.8"/>
<polygon points="1360,768 1414,737 1414,985 1360,955" fill="#c6c3be"/>
<polygon points="1360,768 1414,737 1360,800" fill="#b9b8b3"/>
<polygon points="304.5,615 344.5,638 344.5,684 304.5,661" fill="#dbe5ee"/>
<polygon points="307,619 342,639 342,679.5 307,659.5" fill="#1c273b"/>
<polygon points="349.5,641 389.5,664 389.5,710 349.5,687" fill="#dbe5ee"/>
<polygon points="352,645 387,665 387,705.5 352,685.5" fill="#1c273b"/>
<polygon points="394.5,667 434.5,690 434.5,736 394.5,713" fill="#dbe5ee"/>
<polygon points="397,671 432,691 432,731.5 397,711.5" fill="#1c273b"/>
<polygon points="439.5,693 479.5,716 479.5,762 439.5,739" fill="#dbe5ee"/>
<polygon points="442,697 477,717 477,757.5 442,737.5" fill="#1c273b"/>
<polygon points="633.5,793 673.5,816 673.5,862 633.5,839" fill="#dbe5ee"/>
<polygon points="636,797 671,817 671,857.5 636,837.5" fill="#1c273b"/>
<polygon points="678.5,819 718.5,842 718.5,888 678.5,865" fill="#dbe5ee"/>
<polygon points="681,823 716,843 716,883.5 681,863.5" fill="#1c273b"/>
<polygon points="723.5,845 763.5,868 763.5,914 723.5,891" fill="#dbe5ee"/>
<polygon points="726,849 761,869 761,909.5 726,889.5" fill="#1c273b"/>
<polygon points="768.5,871 808.5,894 808.5,940 768.5,917" fill="#dbe5ee"/>
<polygon points="771,875 806,895 806,935.5 771,915.5" fill="#1c273b"/>
<polygon points="920,108 1245,200 1568,478 1568,520 1235,235 920,140" fill="#c9cacc"/>
<polyline points="921,110 1245,203 1567,480" fill="none" stroke="#f3f3f2" stroke-width="7"/>
<polygon points="318,487 920,140 1235,235 625,585" fill="#77a0b8"/>
<polygon points="625,585 1235,235 1575,520 935,885 932,853" fill="#95b9ce"/>
<line x1="378.2" y1="452.3" x2="686" y2="550" stroke="#6089a2" stroke-width="4"/>
<line x1="686" y1="550" x2="1017.4" y2="838.1" stroke="#769fb7" stroke-width="4"/>
<line x1="438.4" y1="417.6" x2="747" y2="515" stroke="#6089a2" stroke-width="4"/>
<line x1="747" y1="515" x2="1079.3" y2="802.7" stroke="#769fb7" stroke-width="4"/>
<line x1="498.6" y1="382.9" x2="808" y2="480" stroke="#6089a2" stroke-width="4"/>
<line x1="808" y1="480" x2="1141.3" y2="767.4" stroke="#769fb7" stroke-width="4"/>
<line x1="558.8" y1="348.2" x2="869" y2="445" stroke="#6089a2" stroke-width="4"/>
<line x1="869" y1="445" x2="1203.2" y2="732" stroke="#769fb7" stroke-width="4"/>
<line x1="619" y1="313.5" x2="930" y2="410" stroke="#6089a2" stroke-width="4"/>
<line x1="930" y1="410" x2="1265.2" y2="696.7" stroke="#769fb7" stroke-width="4"/>
<line x1="679.2" y1="278.8" x2="991" y2="375" stroke="#6089a2" stroke-width="4"/>
<line x1="991" y1="375" x2="1327.2" y2="661.4" stroke="#769fb7" stroke-width="4"/>
<line x1="739.4" y1="244.1" x2="1052" y2="340" stroke="#6089a2" stroke-width="4"/>
<line x1="1052" y1="340" x2="1389.1" y2="626" stroke="#769fb7" stroke-width="4"/>
<line x1="799.6" y1="209.4" x2="1113" y2="305" stroke="#6089a2" stroke-width="4"/>
<line x1="1113" y1="305" x2="1451.1" y2="590.7" stroke="#769fb7" stroke-width="4"/>
<line x1="859.8" y1="174.7" x2="1174" y2="270" stroke="#6089a2" stroke-width="4"/>
<line x1="1174" y1="270" x2="1513" y2="555.3" stroke="#769fb7" stroke-width="4"/>
<line x1="625" y1="585" x2="1235" y2="235" stroke="#a9cbdc" stroke-width="3"/>
<polygon points="935,885 1575,520 1575,533 940,898" fill="#5f8398"/>
<polygon points="275,483 600,572 923,848 923,862 598,585 275,495" fill="#f5f5f3"/>
<polygon points="932,853 935,885 940,898 946,880" fill="#5f8398"/>
</g>
<g class="bldg-blue" transform="translate(3489.4,598.9) scale(0.28736)">
<polygon points="165,530 450,612 778,882 778,1380 165,1030" fill="#4753a4"/>
<polygon points="245,690 650,925 650,1305 245,1075" fill="#e7e8ea"/>
<polygon points="245,690 278,710 278,1058 245,1040" fill="#33469a"/>
<polygon points="245,1040 278,1022 278,1058 245,1075" fill="#a8aaac"/>
<polygon points="278,710 650,925 650,1272 278,1060" fill="#cfd0d1"/>
<polygon points="278,750 650,965 650,977 278,762" fill="#a6a8aa"/>
<polygon points="278,794 650,1009 650,1021 278,806" fill="#a6a8aa"/>
<polygon points="278,838 650,1053 650,1065 278,850" fill="#a6a8aa"/>
<polygon points="278,882 650,1097 650,1109 278,894" fill="#a6a8aa"/>
<polygon points="278,926 650,1141 650,1153 278,938" fill="#a6a8aa"/>
<polygon points="278,970 650,1185 650,1197 278,982" fill="#a6a8aa"/>
<polygon points="278,1014 650,1229 650,1241 278,1026" fill="#a6a8aa"/>
<polygon points="165,995 245,1040 245,1075 165,1030" fill="#ffffff"/>
<polygon points="650,1270 778,1345 778,1380 650,1305" fill="#ffffff"/>
<path d="M394,772 C392,745 420,732 440,742 C462,752 474,778 470,808 L438,802 C418,798 398,790 394,772 Z" fill="#46494b"/>
<path d="M394,772 C392,745 420,732 440,742 C420,755 410,775 412,792 C402,788 395,780 394,772 Z" fill="#6e6f72"/>
<polygon points="778,882 1393,530 1393,1000 778,1345" fill="#33469a"/>
<polygon points="778,1345 1393,1000 1393,1035 778,1380" fill="#a8aaac"/>
<polygon points="1085,770 1213,692 1213,757 1085,835" fill="#d8d9da"/>
<polygon points="1085,770 1190,706 1190,756 1085,820" fill="#b2b4b6"/>
<polygon points="1190,706 1213,692 1213,757 1190,756" fill="#8f9193"/>
<polygon points="1238,680 1366,602 1366,667 1238,745" fill="#d8d9da"/>
<polygon points="1238,680 1343,616 1343,666 1238,730" fill="#b2b4b6"/>
<polygon points="1343,616 1366,602 1366,667 1343,666" fill="#8f9193"/>
<polygon points="165,508 778,152 1062,232 450,590" fill="#6e6f72"/>
<polygon points="450,590 1062,232 1393,508 778,858" fill="#46494b"/>
<polygon points="177.5,500.7 188.7,494.2 473.6,576.2 462.5,582.7" fill="#909193"/>
<polygon points="463.9,581.9 471.7,577.3 799.8,845.6 792,850" fill="#5e6062"/>
<polygon points="205.4,484.5 216.5,478.1 501.5,559.9 490.3,566.4" fill="#909193"/>
<polygon points="491.7,565.6 499.5,561 827.8,829.7 819.9,834.1" fill="#5e6062"/>
<polygon points="233.3,468.4 244.4,461.9 529.3,543.6 518.2,550.1" fill="#909193"/>
<polygon points="519.5,549.3 527.3,544.8 855.7,813.8 847.9,818.2" fill="#5e6062"/>
<polygon points="261.1,452.2 272.3,445.7 557.1,527.4 546,533.9" fill="#909193"/>
<polygon points="547.4,533 555.2,528.5 883.7,797.9 875.8,802.3" fill="#5e6062"/>
<polygon points="289,436 300.1,429.5 584.9,511.1 573.8,517.6" fill="#909193"/>
<polygon points="575.2,516.8 583,512.2 911.6,782 903.8,786.4" fill="#5e6062"/>
<polygon points="316.9,419.8 328,413.3 612.7,494.8 601.6,501.3" fill="#909193"/>
<polygon points="603,500.5 610.8,495.9 939.6,766 931.8,770.5" fill="#5e6062"/>
<polygon points="344.7,403.6 355.9,397.2 640.6,478.5 629.4,485" fill="#909193"/>
<polygon points="630.8,484.2 638.6,479.7 967.5,750.1 959.7,754.6" fill="#5e6062"/>
<polygon points="372.6,387.4 383.7,381 668.4,462.3 657.2,468.8" fill="#909193"/>
<polygon points="658.6,468 666.4,463.4 995.5,734.2 987.7,738.7" fill="#5e6062"/>
<polygon points="400.4,371.3 411.6,364.8 696.2,446 685.1,452.5" fill="#909193"/>
<polygon points="686.5,451.7 694.2,447.1 1023.4,718.3 1015.6,722.8" fill="#5e6062"/>
<polygon points="428.3,355.1 439.5,348.6 724,429.7 712.9,436.2" fill="#909193"/>
<polygon points="714.3,435.4 722.1,430.9 1051.4,702.4 1043.6,706.9" fill="#5e6062"/>
<polygon points="456.2,338.9 467.3,332.4 751.8,413.4 740.7,420" fill="#909193"/>
<polygon points="742.1,419.1 749.9,414.6 1079.3,686.5 1071.5,691" fill="#5e6062"/>
<polygon points="484,322.7 495.2,316.2 779.6,397.2 768.5,403.7" fill="#909193"/>
<polygon points="769.9,402.9 777.7,398.3 1107.3,670.6 1099.5,675" fill="#5e6062"/>
<polygon points="511.9,306.5 523,300.1 807.5,380.9 796.3,387.4" fill="#909193"/>
<polygon points="797.7,386.6 805.5,382 1135.3,654.7 1127.4,659.1" fill="#5e6062"/>
<polygon points="539.8,290.4 550.9,283.9 835.3,364.6 824.2,371.1" fill="#909193"/>
<polygon points="825.5,370.3 833.3,365.8 1163.2,638.8 1155.4,643.2" fill="#5e6062"/>
<polygon points="567.6,274.2 578.8,267.7 863.1,348.4 852,354.9" fill="#909193"/>
<polygon points="853.4,354 861.2,349.5 1191.2,622.9 1183.3,627.3" fill="#5e6062"/>
<polygon points="595.5,258 606.6,251.5 890.9,332.1 879.8,338.6" fill="#909193"/>
<polygon points="881.2,337.8 889,333.2 1219.1,607 1211.3,611.4" fill="#5e6062"/>
<polygon points="623.4,241.8 634.5,235.3 918.7,315.8 907.6,322.3" fill="#909193"/>
<polygon points="909,321.5 916.8,316.9 1247.1,591 1239.2,595.5" fill="#5e6062"/>
<polygon points="651.2,225.6 662.4,219.2 946.6,299.5 935.4,306" fill="#909193"/>
<polygon points="936.8,305.2 944.6,300.7 1275,575.1 1267.2,579.6" fill="#5e6062"/>
<polygon points="679.1,209.4 690.2,203 974.4,283.3 963.2,289.8" fill="#909193"/>
<polygon points="964.6,289 972.4,284.4 1303,559.2 1295.2,563.7" fill="#5e6062"/>
<polygon points="706.9,193.3 718.1,186.8 1002.2,267 991.1,273.5" fill="#909193"/>
<polygon points="992.5,272.7 1000.2,268.1 1330.9,543.3 1323.1,547.8" fill="#5e6062"/>
<polygon points="734.8,177.1 746,170.6 1030,250.7 1018.9,257.2" fill="#909193"/>
<polygon points="1020.3,256.4 1028.1,251.9 1358.9,527.4 1351.1,531.9" fill="#5e6062"/>
<polygon points="762.7,160.9 773.8,154.4 1057.8,234.4 1046.7,240.9" fill="#909193"/>
<polygon points="1048.1,240.1 1055.9,235.6 1386.8,511.5 1379,516" fill="#5e6062"/>
<polygon points="778,858 1393,508 1393,530 778,882" fill="#a2a4a6"/>
<polygon points="165,508 450,590 778,858 778,882 450,612 165,530" fill="#ffffff"/>
</g>
<g class="bldg-red" transform="translate(1375.5,817.5) scale(0.28736)">
<polygon points="275,483 600,575 920,850 920,1275 275,905" fill="#d3d5d4"/>
<polygon points="275,685 920,1055 920,1185 275,815" fill="#db4d45"/>
<polygon points="920,850 1575,475 1575,890 920,1275" fill="#f2f2f0"/>
<polygon points="920,1055 1575,680 1575,810 920,1185" fill="#df5f58"/>
<polygon points="1098,900 1425,715 1425,980 1098,1170" fill="#de5c56"/>
<polygon points="1108,908 1416,731 1416,987 1108,1168" fill="#d0d4d5"/>
<polygon points="1110,912 1360,768 1360,955 1110,1100" fill="#efece7"/>
<line x1="1110" y1="935.5" x2="1360" y2="791.5" stroke="#d9d6d0" stroke-width="3"/>
<line x1="1110" y1="959" x2="1360" y2="815" stroke="#d9d6d0" stroke-width="3"/>
<line x1="1110" y1="982.5" x2="1360" y2="838.5" stroke="#d9d6d0" stroke-width="3"/>
<line x1="1110" y1="1006" x2="1360" y2="862" stroke="#d9d6d0" stroke-width="3"/>
<line x1="1110" y1="1029.5" x2="1360" y2="885.5" stroke="#d9d6d0" stroke-width="3"/>
<line x1="1110" y1="1053" x2="1360" y2="909" stroke="#d9d6d0" stroke-width="3"/>
<line x1="1110" y1="1076.5" x2="1360" y2="932.5" stroke="#d9d6d0" stroke-width="3"/>
<polygon points="1110,912 1360,768 1360,790 1110,934" fill="#dcdbd6" opacity="0.8"/>
<polygon points="1360,768 1414,737 1414,985 1360,955" fill="#c6c3be"/>
<polygon points="1360,768 1414,737 1360,800" fill="#b9b8b3"/>
<polygon points="304.5,615 344.5,638 344.5,684 304.5,661" fill="#dbe5ee"/>
<polygon points="307,619 342,639 342,679.5 307,659.5" fill="#1c273b"/>
<polygon points="349.5,641 389.5,664 389.5,710 349.5,687" fill="#dbe5ee"/>
<polygon points="352,645 387,665 387,705.5 352,685.5" fill="#1c273b"/>
<polygon points="394.5,667 434.5,690 434.5,736 394.5,713" fill="#dbe5ee"/>
<polygon points="397,671 432,691 432,731.5 397,711.5" fill="#1c273b"/>
<polygon points="439.5,693 479.5,716 479.5,762 439.5,739" fill="#dbe5ee"/>
<polygon points="442,697 477,717 477,757.5 442,737.5" fill="#1c273b"/>
<polygon points="633.5,793 673.5,816 673.5,862 633.5,839" fill="#dbe5ee"/>
<polygon points="636,797 671,817 671,857.5 636,837.5" fill="#1c273b"/>
<polygon points="678.5,819 718.5,842 718.5,888 678.5,865" fill="#dbe5ee"/>
<polygon points="681,823 716,843 716,883.5 681,863.5" fill="#1c273b"/>
<polygon points="723.5,845 763.5,868 763.5,914 723.5,891" fill="#dbe5ee"/>
<polygon points="726,849 761,869 761,909.5 726,889.5" fill="#1c273b"/>
<polygon points="768.5,871 808.5,894 808.5,940 768.5,917" fill="#dbe5ee"/>
<polygon points="771,875 806,895 806,935.5 771,915.5" fill="#1c273b"/>
<polygon points="920,108 1245,200 1568,478 1568,520 1235,235 920,140" fill="#c9cacc"/>
<polyline points="921,110 1245,203 1567,480" fill="none" stroke="#f3f3f2" stroke-width="7"/>
<polygon points="318,487 920,140 1235,235 625,585" fill="#77a0b8"/>
<polygon points="625,585 1235,235 1575,520 935,885 932,853" fill="#95b9ce"/>
<line x1="378.2" y1="452.3" x2="686" y2="550" stroke="#6089a2" stroke-width="4"/>
<line x1="686" y1="550" x2="1017.4" y2="838.1" stroke="#769fb7" stroke-width="4"/>
<line x1="438.4" y1="417.6" x2="747" y2="515" stroke="#6089a2" stroke-width="4"/>
<line x1="747" y1="515" x2="1079.3" y2="802.7" stroke="#769fb7" stroke-width="4"/>
<line x1="498.6" y1="382.9" x2="808" y2="480" stroke="#6089a2" stroke-width="4"/>
<line x1="808" y1="480" x2="1141.3" y2="767.4" stroke="#769fb7" stroke-width="4"/>
<line x1="558.8" y1="348.2" x2="869" y2="445" stroke="#6089a2" stroke-width="4"/>
<line x1="869" y1="445" x2="1203.2" y2="732" stroke="#769fb7" stroke-width="4"/>
<line x1="619" y1="313.5" x2="930" y2="410" stroke="#6089a2" stroke-width="4"/>
<line x1="930" y1="410" x2="1265.2" y2="696.7" stroke="#769fb7" stroke-width="4"/>
<line x1="679.2" y1="278.8" x2="991" y2="375" stroke="#6089a2" stroke-width="4"/>
<line x1="991" y1="375" x2="1327.2" y2="661.4" stroke="#769fb7" stroke-width="4"/>
<line x1="739.4" y1="244.1" x2="1052" y2="340" stroke="#6089a2" stroke-width="4"/>
<line x1="1052" y1="340" x2="1389.1" y2="626" stroke="#769fb7" stroke-width="4"/>
<line x1="799.6" y1="209.4" x2="1113" y2="305" stroke="#6089a2" stroke-width="4"/>
<line x1="1113" y1="305" x2="1451.1" y2="590.7" stroke="#769fb7" stroke-width="4"/>
<line x1="859.8" y1="174.7" x2="1174" y2="270" stroke="#6089a2" stroke-width="4"/>
<line x1="1174" y1="270" x2="1513" y2="555.3" stroke="#769fb7" stroke-width="4"/>
<line x1="625" y1="585" x2="1235" y2="235" stroke="#a9cbdc" stroke-width="3"/>
<polygon points="935,885 1575,520 1575,533 940,898" fill="#5f8398"/>
<polygon points="275,483 600,572 923,848 923,862 598,585 275,495" fill="#f5f5f3"/>
<polygon points="932,853 935,885 940,898 946,880" fill="#5f8398"/>
</g>
<g class="bldg-red" transform="translate(140,980) scale(0.28736)">
<polygon points="275,483 600,575 920,850 920,1275 275,905" fill="#d3d5d4"/>
<polygon points="275,685 920,1055 920,1185 275,815" fill="#db4d45"/>
<polygon points="920,850 1575,475 1575,890 920,1275" fill="#f2f2f0"/>
<polygon points="920,1055 1575,680 1575,810 920,1185" fill="#db4d45"/>
<polygon points="1098,900 1425,715 1425,980 1098,1170" fill="#de5c56"/>
<polygon points="1108,908 1416,731 1416,987 1108,1168" fill="#d0d4d5"/>
<polygon points="1110,912 1360,768 1360,955 1110,1100" fill="#efece7"/>
<line x1="1110" y1="935.5" x2="1360" y2="791.5" stroke="#d9d6d0" stroke-width="3"/>
<line x1="1110" y1="959" x2="1360" y2="815" stroke="#d9d6d0" stroke-width="3"/>
<line x1="1110" y1="982.5" x2="1360" y2="838.5" stroke="#d9d6d0" stroke-width="3"/>
<line x1="1110" y1="1006" x2="1360" y2="862" stroke="#d9d6d0" stroke-width="3"/>
<line x1="1110" y1="1029.5" x2="1360" y2="885.5" stroke="#d9d6d0" stroke-width="3"/>
<line x1="1110" y1="1053" x2="1360" y2="909" stroke="#d9d6d0" stroke-width="3"/>
<line x1="1110" y1="1076.5" x2="1360" y2="932.5" stroke="#d9d6d0" stroke-width="3"/>
<polygon points="1110,912 1360,768 1360,790 1110,934" fill="#dcdbd6" opacity="0.8"/>
<polygon points="1360,768 1414,737 1414,985 1360,955" fill="#c6c3be"/>
<polygon points="1360,768 1414,737 1360,800" fill="#b9b8b3"/>
<polygon points="304.5,615 344.5,638 344.5,684 304.5,661" fill="#dbe5ee"/>
<polygon points="307,619 342,639 342,679.5 307,659.5" fill="#1c273b"/>
<polygon points="349.5,641 389.5,664 389.5,710 349.5,687" fill="#dbe5ee"/>
<polygon points="352,645 387,665 387,705.5 352,685.5" fill="#1c273b"/>
<polygon points="394.5,667 434.5,690 434.5,736 394.5,713" fill="#dbe5ee"/>
<polygon points="397,671 432,691 432,731.5 397,711.5" fill="#1c273b"/>
<polygon points="439.5,693 479.5,716 479.5,762 439.5,739" fill="#dbe5ee"/>
<polygon points="442,697 477,717 477,757.5 442,737.5" fill="#1c273b"/>
<polygon points="633.5,793 673.5,816 673.5,862 633.5,839" fill="#dbe5ee"/>
<polygon points="636,797 671,817 671,857.5 636,837.5" fill="#1c273b"/>
<polygon points="678.5,819 718.5,842 718.5,888 678.5,865" fill="#dbe5ee"/>
<polygon points="681,823 716,843 716,883.5 681,863.5" fill="#1c273b"/>
<polygon points="723.5,845 763.5,868 763.5,914 723.5,891" fill="#dbe5ee"/>
<polygon points="726,849 761,869 761,909.5 726,889.5" fill="#1c273b"/>
<polygon points="768.5,871 808.5,894 808.5,940 768.5,917" fill="#dbe5ee"/>
<polygon points="771,875 806,895 806,935.5 771,915.5" fill="#1c273b"/>
<polygon points="920,108 1245,200 1568,478 1568,520 1235,235 920,140" fill="#c9cacc"/>
<polyline points="921,110 1245,203 1567,480" fill="none" stroke="#f3f3f2" stroke-width="7"/>
<polygon points="318,487 920,140 1235,235 625,585" fill="#77a0b8"/>
<polygon points="625,585 1235,235 1575,520 935,885 932,853" fill="#95b9ce"/>
<line x1="378.2" y1="452.3" x2="686" y2="550" stroke="#6089a2" stroke-width="4"/>
<line x1="686" y1="550" x2="1017.4" y2="838.1" stroke="#769fb7" stroke-width="4"/>
<line x1="438.4" y1="417.6" x2="747" y2="515" stroke="#6089a2" stroke-width="4"/>
<line x1="747" y1="515" x2="1079.3" y2="802.7" stroke="#769fb7" stroke-width="4"/>
<line x1="498.6" y1="382.9" x2="808" y2="480" stroke="#6089a2" stroke-width="4"/>
<line x1="808" y1="480" x2="1141.3" y2="767.4" stroke="#769fb7" stroke-width="4"/>
<line x1="558.8" y1="348.2" x2="869" y2="445" stroke="#6089a2" stroke-width="4"/>
<line x1="869" y1="445" x2="1203.2" y2="732" stroke="#769fb7" stroke-width="4"/>
<line x1="619" y1="313.5" x2="930" y2="410" stroke="#6089a2" stroke-width="4"/>
<line x1="930" y1="410" x2="1265.2" y2="696.7" stroke="#769fb7" stroke-width="4"/>
<line x1="679.2" y1="278.8" x2="991" y2="375" stroke="#6089a2" stroke-width="4"/>
<line x1="991" y1="375" x2="1327.2" y2="661.4" stroke="#769fb7" stroke-width="4"/>
<line x1="739.4" y1="244.1" x2="1052" y2="340" stroke="#6089a2" stroke-width="4"/>
<line x1="1052" y1="340" x2="1389.1" y2="626" stroke="#769fb7" stroke-width="4"/>
<line x1="799.6" y1="209.4" x2="1113" y2="305" stroke="#6089a2" stroke-width="4"/>
<line x1="1113" y1="305" x2="1451.1" y2="590.7" stroke="#769fb7" stroke-width="4"/>
<line x1="859.8" y1="174.7" x2="1174" y2="270" stroke="#6089a2" stroke-width="4"/>
<line x1="1174" y1="270" x2="1513" y2="555.3" stroke="#769fb7" stroke-width="4"/>
<line x1="625" y1="585" x2="1235" y2="235" stroke="#a9cbdc" stroke-width="3"/>
<polygon points="935,885 1575,520 1575,533 940,898" fill="#5f8398"/>
<polygon points="275,483 600,572 923,848 923,862 598,585 275,495" fill="#f5f5f3"/>
<polygon points="932,853 935,885 940,898 946,880" fill="#5f8398"/>
</g>
<g class="bldg-red" transform="translate(2983.4,1017.5) scale(0.28736)">
<polygon points="275,483 600,575 920,850 920,1275 275,905" fill="#d3d5d4"/>
<polygon points="275,685 920,1055 920,1185 275,815" fill="#db4d45"/>
<polygon points="920,850 1575,475 1575,890 920,1275" fill="#f2f2f0"/>
<polygon points="920,1055 1575,680 1575,810 920,1185" fill="#df5f58"/>
<polygon points="1098,900 1425,715 1425,980 1098,1170" fill="#de5c56"/>
<polygon points="1108,908 1416,731 1416,987 1108,1168" fill="#d0d4d5"/>
<polygon points="1110,912 1360,768 1360,955 1110,1100" fill="#efece7"/>
<line x1="1110" y1="935.5" x2="1360" y2="791.5" stroke="#d9d6d0" stroke-width="3"/>
<line x1="1110" y1="959" x2="1360" y2="815" stroke="#d9d6d0" stroke-width="3"/>
<line x1="1110" y1="982.5" x2="1360" y2="838.5" stroke="#d9d6d0" stroke-width="3"/>
<line x1="1110" y1="1006" x2="1360" y2="862" stroke="#d9d6d0" stroke-width="3"/>
<line x1="1110" y1="1029.5" x2="1360" y2="885.5" stroke="#d9d6d0" stroke-width="3"/>
<line x1="1110" y1="1053" x2="1360" y2="909" stroke="#d9d6d0" stroke-width="3"/>
<line x1="1110" y1="1076.5" x2="1360" y2="932.5" stroke="#d9d6d0" stroke-width="3"/>
<polygon points="1110,912 1360,768 1360,790 1110,934" fill="#dcdbd6" opacity="0.8"/>
<polygon points="1360,768 1414,737 1414,985 1360,955" fill="#c6c3be"/>
<polygon points="1360,768 1414,737 1360,800" fill="#b9b8b3"/>
<polygon points="304.5,615 344.5,638 344.5,684 304.5,661" fill="#dbe5ee"/>
<polygon points="307,619 342,639 342,679.5 307,659.5" fill="#1c273b"/>
<polygon points="349.5,641 389.5,664 389.5,710 349.5,687" fill="#dbe5ee"/>
<polygon points="352,645 387,665 387,705.5 352,685.5" fill="#1c273b"/>
<polygon points="394.5,667 434.5,690 434.5,736 394.5,713" fill="#dbe5ee"/>
<polygon points="397,671 432,691 432,731.5 397,711.5" fill="#1c273b"/>
<polygon points="439.5,693 479.5,716 479.5,762 439.5,739" fill="#dbe5ee"/>
<polygon points="442,697 477,717 477,757.5 442,737.5" fill="#1c273b"/>
<polygon points="633.5,793 673.5,816 673.5,862 633.5,839" fill="#dbe5ee"/>
<polygon points="636,797 671,817 671,857.5 636,837.5" fill="#1c273b"/>
<polygon points="678.5,819 718.5,842 718.5,888 678.5,865" fill="#dbe5ee"/>
<polygon points="681,823 716,843 716,883.5 681,863.5" fill="#1c273b"/>
<polygon points="723.5,845 763.5,868 763.5,914 723.5,891" fill="#dbe5ee"/>
<polygon points="726,849 761,869 761,909.5 726,889.5" fill="#1c273b"/>
<polygon points="768.5,871 808.5,894 808.5,940 768.5,917" fill="#dbe5ee"/>
<polygon points="771,875 806,895 806,935.5 771,915.5" fill="#1c273b"/>
<polygon points="920,108 1245,200 1568,478 1568,520 1235,235 920,140" fill="#c9cacc"/>
<polyline points="921,110 1245,203 1567,480" fill="none" stroke="#f3f3f2" stroke-width="7"/>
<polygon points="318,487 920,140 1235,235 625,585" fill="#77a0b8"/>
<polygon points="625,585 1235,235 1575,520 935,885 932,853" fill="#95b9ce"/>
<line x1="378.2" y1="452.3" x2="686" y2="550" stroke="#6089a2" stroke-width="4"/>
<line x1="686" y1="550" x2="1017.4" y2="838.1" stroke="#769fb7" stroke-width="4"/>
<line x1="438.4" y1="417.6" x2="747" y2="515" stroke="#6089a2" stroke-width="4"/>
<line x1="747" y1="515" x2="1079.3" y2="802.7" stroke="#769fb7" stroke-width="4"/>
<line x1="498.6" y1="382.9" x2="808" y2="480" stroke="#6089a2" stroke-width="4"/>
<line x1="808" y1="480" x2="1141.3" y2="767.4" stroke="#769fb7" stroke-width="4"/>
<line x1="558.8" y1="348.2" x2="869" y2="445" stroke="#6089a2" stroke-width="4"/>
<line x1="869" y1="445" x2="1203.2" y2="732" stroke="#769fb7" stroke-width="4"/>
<line x1="619" y1="313.5" x2="930" y2="410" stroke="#6089a2" stroke-width="4"/>
<line x1="930" y1="410" x2="1265.2" y2="696.7" stroke="#769fb7" stroke-width="4"/>
<line x1="679.2" y1="278.8" x2="991" y2="375" stroke="#6089a2" stroke-width="4"/>
<line x1="991" y1="375" x2="1327.2" y2="661.4" stroke="#769fb7" stroke-width="4"/>
<line x1="739.4" y1="244.1" x2="1052" y2="340" stroke="#6089a2" stroke-width="4"/>
<line x1="1052" y1="340" x2="1389.1" y2="626" stroke="#769fb7" stroke-width="4"/>
<line x1="799.6" y1="209.4" x2="1113" y2="305" stroke="#6089a2" stroke-width="4"/>
<line x1="1113" y1="305" x2="1451.1" y2="590.7" stroke="#769fb7" stroke-width="4"/>
<line x1="859.8" y1="174.7" x2="1174" y2="270" stroke="#6089a2" stroke-width="4"/>
<line x1="1174" y1="270" x2="1513" y2="555.3" stroke="#769fb7" stroke-width="4"/>
<line x1="625" y1="585" x2="1235" y2="235" stroke="#a9cbdc" stroke-width="3"/>
<polygon points="935,885 1575,520 1575,533 940,898" fill="#5f8398"/>
<polygon points="275,483 600,572 923,848 923,862 598,585 275,495" fill="#f5f5f3"/>
<polygon points="932,853 935,885 940,898 946,880" fill="#5f8398"/>
</g>
<g class="bldg-red" transform="translate(1341.7,1057.9) scale(0.28736)">
<polygon points="275,483 600,575 920,850 920,1275 275,905" fill="#d3d5d4"/>
<polygon points="275,685 920,1055 920,1185 275,815" fill="#db4d45"/>
<polygon points="920,850 1575,475 1575,890 920,1275" fill="#f2f2f0"/>
<polygon points="920,1055 1575,680 1575,810 920,1185" fill="#df5f58"/>
<polygon points="1098,900 1425,715 1425,980 1098,1170" fill="#de5c56"/>
<polygon points="1108,908 1416,731 1416,987 1108,1168" fill="#d0d4d5"/>
<polygon points="1110,912 1360,768 1360,955 1110,1100" fill="#efece7"/>
<line x1="1110" y1="935.5" x2="1360" y2="791.5" stroke="#d9d6d0" stroke-width="3"/>
<line x1="1110" y1="959" x2="1360" y2="815" stroke="#d9d6d0" stroke-width="3"/>
<line x1="1110" y1="982.5" x2="1360" y2="838.5" stroke="#d9d6d0" stroke-width="3"/>
<line x1="1110" y1="1006" x2="1360" y2="862" stroke="#d9d6d0" stroke-width="3"/>
<line x1="1110" y1="1029.5" x2="1360" y2="885.5" stroke="#d9d6d0" stroke-width="3"/>
<line x1="1110" y1="1053" x2="1360" y2="909" stroke="#d9d6d0" stroke-width="3"/>
<line x1="1110" y1="1076.5" x2="1360" y2="932.5" stroke="#d9d6d0" stroke-width="3"/>
<polygon points="1110,912 1360,768 1360,790 1110,934" fill="#dcdbd6" opacity="0.8"/>
<polygon points="1360,768 1414,737 1414,985 1360,955" fill="#c6c3be"/>
<polygon points="1360,768 1414,737 1360,800" fill="#b9b8b3"/>
<polygon points="304.5,615 344.5,638 344.5,684 304.5,661" fill="#dbe5ee"/>
<polygon points="307,619 342,639 342,679.5 307,659.5" fill="#1c273b"/>
<polygon points="349.5,641 389.5,664 389.5,710 349.5,687" fill="#dbe5ee"/>
<polygon points="352,645 387,665 387,705.5 352,685.5" fill="#1c273b"/>
<polygon points="394.5,667 434.5,690 434.5,736 394.5,713" fill="#dbe5ee"/>
<polygon points="397,671 432,691 432,731.5 397,711.5" fill="#1c273b"/>
<polygon points="439.5,693 479.5,716 479.5,762 439.5,739" fill="#dbe5ee"/>
<polygon points="442,697 477,717 477,757.5 442,737.5" fill="#1c273b"/>
<polygon points="633.5,793 673.5,816 673.5,862 633.5,839" fill="#dbe5ee"/>
<polygon points="636,797 671,817 671,857.5 636,837.5" fill="#1c273b"/>
<polygon points="678.5,819 718.5,842 718.5,888 678.5,865" fill="#dbe5ee"/>
<polygon points="681,823 716,843 716,883.5 681,863.5" fill="#1c273b"/>
<polygon points="723.5,845 763.5,868 763.5,914 723.5,891" fill="#dbe5ee"/>
<polygon points="726,849 761,869 761,909.5 726,889.5" fill="#1c273b"/>
<polygon points="768.5,871 808.5,894 808.5,940 768.5,917" fill="#dbe5ee"/>
<polygon points="771,875 806,895 806,935.5 771,915.5" fill="#1c273b"/>
<polygon points="920,108 1245,200 1568,478 1568,520 1235,235 920,140" fill="#c9cacc"/>
<polyline points="921,110 1245,203 1567,480" fill="none" stroke="#f3f3f2" stroke-width="7"/>
<polygon points="318,487 920,140 1235,235 625,585" fill="#77a0b8"/>
<polygon points="625,585 1235,235 1575,520 935,885 932,853" fill="#95b9ce"/>
<line x1="378.2" y1="452.3" x2="686" y2="550" stroke="#6089a2" stroke-width="4"/>
<line x1="686" y1="550" x2="1017.4" y2="838.1" stroke="#769fb7" stroke-width="4"/>
<line x1="438.4" y1="417.6" x2="747" y2="515" stroke="#6089a2" stroke-width="4"/>
<line x1="747" y1="515" x2="1079.3" y2="802.7" stroke="#769fb7" stroke-width="4"/>
<line x1="498.6" y1="382.9" x2="808" y2="480" stroke="#6089a2" stroke-width="4"/>
<line x1="808" y1="480" x2="1141.3" y2="767.4" stroke="#769fb7" stroke-width="4"/>
<line x1="558.8" y1="348.2" x2="869" y2="445" stroke="#6089a2" stroke-width="4"/>
<line x1="869" y1="445" x2="1203.2" y2="732" stroke="#769fb7" stroke-width="4"/>
<line x1="619" y1="313.5" x2="930" y2="410" stroke="#6089a2" stroke-width="4"/>
<line x1="930" y1="410" x2="1265.2" y2="696.7" stroke="#769fb7" stroke-width="4"/>
<line x1="679.2" y1="278.8" x2="991" y2="375" stroke="#6089a2" stroke-width="4"/>
<line x1="991" y1="375" x2="1327.2" y2="661.4" stroke="#769fb7" stroke-width="4"/>
<line x1="739.4" y1="244.1" x2="1052" y2="340" stroke="#6089a2" stroke-width="4"/>
<line x1="1052" y1="340" x2="1389.1" y2="626" stroke="#769fb7" stroke-width="4"/>
<line x1="799.6" y1="209.4" x2="1113" y2="305" stroke="#6089a2" stroke-width="4"/>
<line x1="1113" y1="305" x2="1451.1" y2="590.7" stroke="#769fb7" stroke-width="4"/>
<line x1="859.8" y1="174.7" x2="1174" y2="270" stroke="#6089a2" stroke-width="4"/>
<line x1="1174" y1="270" x2="1513" y2="555.3" stroke="#769fb7" stroke-width="4"/>
<line x1="625" y1="585" x2="1235" y2="235" stroke="#a9cbdc" stroke-width="3"/>
<polygon points="935,885 1575,520 1575,533 940,898" fill="#5f8398"/>
<polygon points="275,483 600,572 923,848 923,862 598,585 275,495" fill="#f5f5f3"/>
<polygon points="932,853 935,885 940,898 946,880" fill="#5f8398"/>
</g>
<g class="bldg-red" transform="translate(1896,1247.3) scale(0.28736)">
<polygon points="275,483 600,575 920,850 920,1275 275,905" fill="#d3d5d4"/>
<polygon points="275,685 920,1055 920,1185 275,815" fill="#db4d45"/>
<polygon points="920,850 1575,475 1575,890 920,1275" fill="#f2f2f0"/>
<polygon points="920,1055 1575,680 1575,810 920,1185" fill="#db4d45"/>
<polygon points="1098,900 1425,715 1425,980 1098,1170" fill="#de5c56"/>
<polygon points="1108,908 1416,731 1416,987 1108,1168" fill="#d0d4d5"/>
<polygon points="1110,912 1360,768 1360,955 1110,1100" fill="#efece7"/>
<line x1="1110" y1="935.5" x2="1360" y2="791.5" stroke="#d9d6d0" stroke-width="3"/>
<line x1="1110" y1="959" x2="1360" y2="815" stroke="#d9d6d0" stroke-width="3"/>
<line x1="1110" y1="982.5" x2="1360" y2="838.5" stroke="#d9d6d0" stroke-width="3"/>
<line x1="1110" y1="1006" x2="1360" y2="862" stroke="#d9d6d0" stroke-width="3"/>
<line x1="1110" y1="1029.5" x2="1360" y2="885.5" stroke="#d9d6d0" stroke-width="3"/>
<line x1="1110" y1="1053" x2="1360" y2="909" stroke="#d9d6d0" stroke-width="3"/>
<line x1="1110" y1="1076.5" x2="1360" y2="932.5" stroke="#d9d6d0" stroke-width="3"/>
<polygon points="1110,912 1360,768 1360,790 1110,934" fill="#dcdbd6" opacity="0.8"/>
<polygon points="1360,768 1414,737 1414,985 1360,955" fill="#c6c3be"/>
<polygon points="1360,768 1414,737 1360,800" fill="#b9b8b3"/>
<polygon points="304.5,615 344.5,638 344.5,684 304.5,661" fill="#dbe5ee"/>
<polygon points="307,619 342,639 342,679.5 307,659.5" fill="#1c273b"/>
<polygon points="349.5,641 389.5,664 389.5,710 349.5,687" fill="#dbe5ee"/>
<polygon points="352,645 387,665 387,705.5 352,685.5" fill="#1c273b"/>
<polygon points="394.5,667 434.5,690 434.5,736 394.5,713" fill="#dbe5ee"/>
<polygon points="397,671 432,691 432,731.5 397,711.5" fill="#1c273b"/>
<polygon points="439.5,693 479.5,716 479.5,762 439.5,739" fill="#dbe5ee"/>
<polygon points="442,697 477,717 477,757.5 442,737.5" fill="#1c273b"/>
<polygon points="633.5,793 673.5,816 673.5,862 633.5,839" fill="#dbe5ee"/>
<polygon points="636,797 671,817 671,857.5 636,837.5" fill="#1c273b"/>
<polygon points="678.5,819 718.5,842 718.5,888 678.5,865" fill="#dbe5ee"/>
<polygon points="681,823 716,843 716,883.5 681,863.5" fill="#1c273b"/>
<polygon points="723.5,845 763.5,868 763.5,914 723.5,891" fill="#dbe5ee"/>
<polygon points="726,849 761,869 761,909.5 726,889.5" fill="#1c273b"/>
<polygon points="768.5,871 808.5,894 808.5,940 768.5,917" fill="#dbe5ee"/>
<polygon points="771,875 806,895 806,935.5 771,915.5" fill="#1c273b"/>
<polygon points="920,108 1245,200 1568,478 1568,520 1235,235 920,140" fill="#c9cacc"/>
<polyline points="921,110 1245,203 1567,480" fill="none" stroke="#f3f3f2" stroke-width="7"/>
<polygon points="318,487 920,140 1235,235 625,585" fill="#77a0b8"/>
<polygon points="625,585 1235,235 1575,520 935,885 932,853" fill="#95b9ce"/>
<line x1="378.2" y1="452.3" x2="686" y2="550" stroke="#6089a2" stroke-width="4"/>
<line x1="686" y1="550" x2="1017.4" y2="838.1" stroke="#769fb7" stroke-width="4"/>
<line x1="438.4" y1="417.6" x2="747" y2="515" stroke="#6089a2" stroke-width="4"/>
<line x1="747" y1="515" x2="1079.3" y2="802.7" stroke="#769fb7" stroke-width="4"/>
<line x1="498.6" y1="382.9" x2="808" y2="480" stroke="#6089a2" stroke-width="4"/>
<line x1="808" y1="480" x2="1141.3" y2="767.4" stroke="#769fb7" stroke-width="4"/>
<line x1="558.8" y1="348.2" x2="869" y2="445" stroke="#6089a2" stroke-width="4"/>
<line x1="869" y1="445" x2="1203.2" y2="732" stroke="#769fb7" stroke-width="4"/>
<line x1="619" y1="313.5" x2="930" y2="410" stroke="#6089a2" stroke-width="4"/>
<line x1="930" y1="410" x2="1265.2" y2="696.7" stroke="#769fb7" stroke-width="4"/>
<line x1="679.2" y1="278.8" x2="991" y2="375" stroke="#6089a2" stroke-width="4"/>
<line x1="991" y1="375" x2="1327.2" y2="661.4" stroke="#769fb7" stroke-width="4"/>
<line x1="739.4" y1="244.1" x2="1052" y2="340" stroke="#6089a2" stroke-width="4"/>
<line x1="1052" y1="340" x2="1389.1" y2="626" stroke="#769fb7" stroke-width="4"/>
<line x1="799.6" y1="209.4" x2="1113" y2="305" stroke="#6089a2" stroke-width="4"/>
<line x1="1113" y1="305" x2="1451.1" y2="590.7" stroke="#769fb7" stroke-width="4"/>
<line x1="859.8" y1="174.7" x2="1174" y2="270" stroke="#6089a2" stroke-width="4"/>
<line x1="1174" y1="270" x2="1513" y2="555.3" stroke="#769fb7" stroke-width="4"/>
<line x1="625" y1="585" x2="1235" y2="235" stroke="#a9cbdc" stroke-width="3"/>
<polygon points="935,885 1575,520 1575,533 940,898" fill="#5f8398"/>
<polygon points="275,483 600,572 923,848 923,862 598,585 275,495" fill="#f5f5f3"/>
<polygon points="932,853 935,885 940,898 946,880" fill="#5f8398"/>
</g>
<g class="bldg-blue" transform="translate(2775.6,1323.1) scale(0.28736)">
<polygon points="165,530 450,612 778,882 778,1380 165,1030" fill="#4753a4"/>
<polygon points="245,690 650,925 650,1305 245,1075" fill="#e7e8ea"/>
<polygon points="245,690 278,710 278,1058 245,1040" fill="#33469a"/>
<polygon points="245,1040 278,1022 278,1058 245,1075" fill="#a8aaac"/>
<polygon points="278,710 650,925 650,1272 278,1060" fill="#cfd0d1"/>
<polygon points="278,750 650,965 650,977 278,762" fill="#a6a8aa"/>
<polygon points="278,794 650,1009 650,1021 278,806" fill="#a6a8aa"/>
<polygon points="278,838 650,1053 650,1065 278,850" fill="#a6a8aa"/>
<polygon points="278,882 650,1097 650,1109 278,894" fill="#a6a8aa"/>
<polygon points="278,926 650,1141 650,1153 278,938" fill="#a6a8aa"/>
<polygon points="278,970 650,1185 650,1197 278,982" fill="#a6a8aa"/>
<polygon points="278,1014 650,1229 650,1241 278,1026" fill="#a6a8aa"/>
<polygon points="165,995 245,1040 245,1075 165,1030" fill="#ffffff"/>
<polygon points="650,1270 778,1345 778,1380 650,1305" fill="#ffffff"/>
<path d="M394,772 C392,745 420,732 440,742 C462,752 474,778 470,808 L438,802 C418,798 398,790 394,772 Z" fill="#46494b"/>
<path d="M394,772 C392,745 420,732 440,742 C420,755 410,775 412,792 C402,788 395,780 394,772 Z" fill="#6e6f72"/>
<polygon points="778,882 1393,530 1393,1000 778,1345" fill="#33469a"/>
<polygon points="778,1345 1393,1000 1393,1035 778,1380" fill="#a8aaac"/>
<polygon points="1085,770 1213,692 1213,757 1085,835" fill="#d8d9da"/>
<polygon points="1085,770 1190,706 1190,756 1085,820" fill="#b2b4b6"/>
<polygon points="1190,706 1213,692 1213,757 1190,756" fill="#8f9193"/>
<polygon points="1238,680 1366,602 1366,667 1238,745" fill="#d8d9da"/>
<polygon points="1238,680 1343,616 1343,666 1238,730" fill="#b2b4b6"/>
<polygon points="1343,616 1366,602 1366,667 1343,666" fill="#8f9193"/>
<polygon points="165,508 778,152 1062,232 450,590" fill="#6e6f72"/>
<polygon points="450,590 1062,232 1393,508 778,858" fill="#46494b"/>
<polygon points="177.5,500.7 188.7,494.2 473.6,576.2 462.5,582.7" fill="#909193"/>
<polygon points="463.9,581.9 471.7,577.3 799.8,845.6 792,850" fill="#5e6062"/>
<polygon points="205.4,484.5 216.5,478.1 501.5,559.9 490.3,566.4" fill="#909193"/>
<polygon points="491.7,565.6 499.5,561 827.8,829.7 819.9,834.1" fill="#5e6062"/>
<polygon points="233.3,468.4 244.4,461.9 529.3,543.6 518.2,550.1" fill="#909193"/>
<polygon points="519.5,549.3 527.3,544.8 855.7,813.8 847.9,818.2" fill="#5e6062"/>
<polygon points="261.1,452.2 272.3,445.7 557.1,527.4 546,533.9" fill="#909193"/>
<polygon points="547.4,533 555.2,528.5 883.7,797.9 875.8,802.3" fill="#5e6062"/>
<polygon points="289,436 300.1,429.5 584.9,511.1 573.8,517.6" fill="#909193"/>
<polygon points="575.2,516.8 583,512.2 911.6,782 903.8,786.4" fill="#5e6062"/>
<polygon points="316.9,419.8 328,413.3 612.7,494.8 601.6,501.3" fill="#909193"/>
<polygon points="603,500.5 610.8,495.9 939.6,766 931.8,770.5" fill="#5e6062"/>
<polygon points="344.7,403.6 355.9,397.2 640.6,478.5 629.4,485" fill="#909193"/>
<polygon points="630.8,484.2 638.6,479.7 967.5,750.1 959.7,754.6" fill="#5e6062"/>
<polygon points="372.6,387.4 383.7,381 668.4,462.3 657.2,468.8" fill="#909193"/>
<polygon points="658.6,468 666.4,463.4 995.5,734.2 987.7,738.7" fill="#5e6062"/>
<polygon points="400.4,371.3 411.6,364.8 696.2,446 685.1,452.5" fill="#909193"/>
<polygon points="686.5,451.7 694.2,447.1 1023.4,718.3 1015.6,722.8" fill="#5e6062"/>
<polygon points="428.3,355.1 439.5,348.6 724,429.7 712.9,436.2" fill="#909193"/>
<polygon points="714.3,435.4 722.1,430.9 1051.4,702.4 1043.6,706.9" fill="#5e6062"/>
<polygon points="456.2,338.9 467.3,332.4 751.8,413.4 740.7,420" fill="#909193"/>
<polygon points="742.1,419.1 749.9,414.6 1079.3,686.5 1071.5,691" fill="#5e6062"/>
<polygon points="484,322.7 495.2,316.2 779.6,397.2 768.5,403.7" fill="#909193"/>
<polygon points="769.9,402.9 777.7,398.3 1107.3,670.6 1099.5,675" fill="#5e6062"/>
<polygon points="511.9,306.5 523,300.1 807.5,380.9 796.3,387.4" fill="#909193"/>
<polygon points="797.7,386.6 805.5,382 1135.3,654.7 1127.4,659.1" fill="#5e6062"/>
<polygon points="539.8,290.4 550.9,283.9 835.3,364.6 824.2,371.1" fill="#909193"/>
<polygon points="825.5,370.3 833.3,365.8 1163.2,638.8 1155.4,643.2" fill="#5e6062"/>
<polygon points="567.6,274.2 578.8,267.7 863.1,348.4 852,354.9" fill="#909193"/>
<polygon points="853.4,354 861.2,349.5 1191.2,622.9 1183.3,627.3" fill="#5e6062"/>
<polygon points="595.5,258 606.6,251.5 890.9,332.1 879.8,338.6" fill="#909193"/>
<polygon points="881.2,337.8 889,333.2 1219.1,607 1211.3,611.4" fill="#5e6062"/>
<polygon points="623.4,241.8 634.5,235.3 918.7,315.8 907.6,322.3" fill="#909193"/>
<polygon points="909,321.5 916.8,316.9 1247.1,591 1239.2,595.5" fill="#5e6062"/>
<polygon points="651.2,225.6 662.4,219.2 946.6,299.5 935.4,306" fill="#909193"/>
<polygon points="936.8,305.2 944.6,300.7 1275,575.1 1267.2,579.6" fill="#5e6062"/>
<polygon points="679.1,209.4 690.2,203 974.4,283.3 963.2,289.8" fill="#909193"/>
<polygon points="964.6,289 972.4,284.4 1303,559.2 1295.2,563.7" fill="#5e6062"/>
<polygon points="706.9,193.3 718.1,186.8 1002.2,267 991.1,273.5" fill="#909193"/>
<polygon points="992.5,272.7 1000.2,268.1 1330.9,543.3 1323.1,547.8" fill="#5e6062"/>
<polygon points="734.8,177.1 746,170.6 1030,250.7 1018.9,257.2" fill="#909193"/>
<polygon points="1020.3,256.4 1028.1,251.9 1358.9,527.4 1351.1,531.9" fill="#5e6062"/>
<polygon points="762.7,160.9 773.8,154.4 1057.8,234.4 1046.7,240.9" fill="#909193"/>
<polygon points="1048.1,240.1 1055.9,235.6 1386.8,511.5 1379,516" fill="#5e6062"/>
<polygon points="778,858 1393,508 1393,530 778,882" fill="#a2a4a6"/>
<polygon points="165,508 450,590 778,858 778,882 450,612 165,530" fill="#ffffff"/>
</g>
<g class="bldg-red" transform="translate(2492.5,1495.6) scale(0.28736)">
<polygon points="275,483 600,575 920,850 920,1275 275,905" fill="#d3d5d4"/>
<polygon points="275,685 920,1055 920,1185 275,815" fill="#db4d45"/>
<polygon points="920,850 1575,475 1575,890 920,1275" fill="#f2f2f0"/>
<polygon points="920,1055 1575,680 1575,810 920,1185" fill="#db4d45"/>
<polygon points="1098,900 1425,715 1425,980 1098,1170" fill="#de5c56"/>
<polygon points="1108,908 1416,731 1416,987 1108,1168" fill="#d0d4d5"/>
<polygon points="1110,912 1360,768 1360,955 1110,1100" fill="#efece7"/>
<line x1="1110" y1="935.5" x2="1360" y2="791.5" stroke="#d9d6d0" stroke-width="3"/>
<line x1="1110" y1="959" x2="1360" y2="815" stroke="#d9d6d0" stroke-width="3"/>
<line x1="1110" y1="982.5" x2="1360" y2="838.5" stroke="#d9d6d0" stroke-width="3"/>
<line x1="1110" y1="1006" x2="1360" y2="862" stroke="#d9d6d0" stroke-width="3"/>
<line x1="1110" y1="1029.5" x2="1360" y2="885.5" stroke="#d9d6d0" stroke-width="3"/>
<line x1="1110" y1="1053" x2="1360" y2="909" stroke="#d9d6d0" stroke-width="3"/>
<line x1="1110" y1="1076.5" x2="1360" y2="932.5" stroke="#d9d6d0" stroke-width="3"/>
<polygon points="1110,912 1360,768 1360,790 1110,934" fill="#dcdbd6" opacity="0.8"/>
<polygon points="1360,768 1414,737 1414,985 1360,955" fill="#c6c3be"/>
<polygon points="1360,768 1414,737 1360,800" fill="#b9b8b3"/>
<polygon points="304.5,615 344.5,638 344.5,684 304.5,661" fill="#dbe5ee"/>
<polygon points="307,619 342,639 342,679.5 307,659.5" fill="#1c273b"/>
<polygon points="349.5,641 389.5,664 389.5,710 349.5,687" fill="#dbe5ee"/>
<polygon points="352,645 387,665 387,705.5 352,685.5" fill="#1c273b"/>
<polygon points="394.5,667 434.5,690 434.5,736 394.5,713" fill="#dbe5ee"/>
<polygon points="397,671 432,691 432,731.5 397,711.5" fill="#1c273b"/>
<polygon points="439.5,693 479.5,716 479.5,762 439.5,739" fill="#dbe5ee"/>
<polygon points="442,697 477,717 477,757.5 442,737.5" fill="#1c273b"/>
<polygon points="633.5,793 673.5,816 673.5,862 633.5,839" fill="#dbe5ee"/>
<polygon points="636,797 671,817 671,857.5 636,837.5" fill="#1c273b"/>
<polygon points="678.5,819 718.5,842 718.5,888 678.5,865" fill="#dbe5ee"/>
<polygon points="681,823 716,843 716,883.5 681,863.5" fill="#1c273b"/>
<polygon points="723.5,845 763.5,868 763.5,914 723.5,891" fill="#dbe5ee"/>
<polygon points="726,849 761,869 761,909.5 726,889.5" fill="#1c273b"/>
<polygon points="768.5,871 808.5,894 808.5,940 768.5,917" fill="#dbe5ee"/>
<polygon points="771,875 806,895 806,935.5 771,915.5" fill="#1c273b"/>
<polygon points="920,108 1245,200 1568,478 1568,520 1235,235 920,140" fill="#c9cacc"/>
<polyline points="921,110 1245,203 1567,480" fill="none" stroke="#f3f3f2" stroke-width="7"/>
<polygon points="318,487 920,140 1235,235 625,585" fill="#77a0b8"/>
<polygon points="625,585 1235,235 1575,520 935,885 932,853" fill="#95b9ce"/>
<line x1="378.2" y1="452.3" x2="686" y2="550" stroke="#6089a2" stroke-width="4"/>
<line x1="686" y1="550" x2="1017.4" y2="838.1" stroke="#769fb7" stroke-width="4"/>
<line x1="438.4" y1="417.6" x2="747" y2="515" stroke="#6089a2" stroke-width="4"/>
<line x1="747" y1="515" x2="1079.3" y2="802.7" stroke="#769fb7" stroke-width="4"/>
<line x1="498.6" y1="382.9" x2="808" y2="480" stroke="#6089a2" stroke-width="4"/>
<line x1="808" y1="480" x2="1141.3" y2="767.4" stroke="#769fb7" stroke-width="4"/>
<line x1="558.8" y1="348.2" x2="869" y2="445" stroke="#6089a2" stroke-width="4"/>
<line x1="869" y1="445" x2="1203.2" y2="732" stroke="#769fb7" stroke-width="4"/>
<line x1="619" y1="313.5" x2="930" y2="410" stroke="#6089a2" stroke-width="4"/>
<line x1="930" y1="410" x2="1265.2" y2="696.7" stroke="#769fb7" stroke-width="4"/>
<line x1="679.2" y1="278.8" x2="991" y2="375" stroke="#6089a2" stroke-width="4"/>
<line x1="991" y1="375" x2="1327.2" y2="661.4" stroke="#769fb7" stroke-width="4"/>
<line x1="739.4" y1="244.1" x2="1052" y2="340" stroke="#6089a2" stroke-width="4"/>
<line x1="1052" y1="340" x2="1389.1" y2="626" stroke="#769fb7" stroke-width="4"/>
<line x1="799.6" y1="209.4" x2="1113" y2="305" stroke="#6089a2" stroke-width="4"/>
<line x1="1113" y1="305" x2="1451.1" y2="590.7" stroke="#769fb7" stroke-width="4"/>
<line x1="859.8" y1="174.7" x2="1174" y2="270" stroke="#6089a2" stroke-width="4"/>
<line x1="1174" y1="270" x2="1513" y2="555.3" stroke="#769fb7" stroke-width="4"/>
<line x1="625" y1="585" x2="1235" y2="235" stroke="#a9cbdc" stroke-width="3"/>
<polygon points="935,885 1575,520 1575,533 940,898" fill="#5f8398"/>
<polygon points="275,483 600,572 923,848 923,862 598,585 275,495" fill="#f5f5f3"/>
<polygon points="932,853 935,885 940,898 946,880" fill="#5f8398"/>
</g>
<g class="bldg-red" transform="translate(1674.5,1662.8) scale(0.28736)">
<polygon points="275,483 600,575 920,850 920,1275 275,905" fill="#d3d5d4"/>
<polygon points="275,685 920,1055 920,1185 275,815" fill="#db4d45"/>
<polygon points="920,850 1575,475 1575,890 920,1275" fill="#f2f2f0"/>
<polygon points="920,1055 1575,680 1575,810 920,1185" fill="#df5f58"/>
<polygon points="1098,900 1425,715 1425,980 1098,1170" fill="#de5c56"/>
<polygon points="1108,908 1416,731 1416,987 1108,1168" fill="#d0d4d5"/>
<polygon points="1110,912 1360,768 1360,955 1110,1100" fill="#efece7"/>
<line x1="1110" y1="935.5" x2="1360" y2="791.5" stroke="#d9d6d0" stroke-width="3"/>
<line x1="1110" y1="959" x2="1360" y2="815" stroke="#d9d6d0" stroke-width="3"/>
<line x1="1110" y1="982.5" x2="1360" y2="838.5" stroke="#d9d6d0" stroke-width="3"/>
<line x1="1110" y1="1006" x2="1360" y2="862" stroke="#d9d6d0" stroke-width="3"/>
<line x1="1110" y1="1029.5" x2="1360" y2="885.5" stroke="#d9d6d0" stroke-width="3"/>
<line x1="1110" y1="1053" x2="1360" y2="909" stroke="#d9d6d0" stroke-width="3"/>
<line x1="1110" y1="1076.5" x2="1360" y2="932.5" stroke="#d9d6d0" stroke-width="3"/>
<polygon points="1110,912 1360,768 1360,790 1110,934" fill="#dcdbd6" opacity="0.8"/>
<polygon points="1360,768 1414,737 1414,985 1360,955" fill="#c6c3be"/>
<polygon points="1360,768 1414,737 1360,800" fill="#b9b8b3"/>
<polygon points="304.5,615 344.5,638 344.5,684 304.5,661" fill="#dbe5ee"/>
<polygon points="307,619 342,639 342,679.5 307,659.5" fill="#1c273b"/>
<polygon points="349.5,641 389.5,664 389.5,710 349.5,687" fill="#dbe5ee"/>
<polygon points="352,645 387,665 387,705.5 352,685.5" fill="#1c273b"/>
<polygon points="394.5,667 434.5,690 434.5,736 394.5,713" fill="#dbe5ee"/>
<polygon points="397,671 432,691 432,731.5 397,711.5" fill="#1c273b"/>
<polygon points="439.5,693 479.5,716 479.5,762 439.5,739" fill="#dbe5ee"/>
<polygon points="442,697 477,717 477,757.5 442,737.5" fill="#1c273b"/>
<polygon points="633.5,793 673.5,816 673.5,862 633.5,839" fill="#dbe5ee"/>
<polygon points="636,797 671,817 671,857.5 636,837.5" fill="#1c273b"/>
<polygon points="678.5,819 718.5,842 718.5,888 678.5,865" fill="#dbe5ee"/>
<polygon points="681,823 716,843 716,883.5 681,863.5" fill="#1c273b"/>
<polygon points="723.5,845 763.5,868 763.5,914 723.5,891" fill="#dbe5ee"/>
<polygon points="726,849 761,869 761,909.5 726,889.5" fill="#1c273b"/>
<polygon points="768.5,871 808.5,894 808.5,940 768.5,917" fill="#dbe5ee"/>
<polygon points="771,875 806,895 806,935.5 771,915.5" fill="#1c273b"/>
<polygon points="920,108 1245,200 1568,478 1568,520 1235,235 920,140" fill="#c9cacc"/>
<polyline points="921,110 1245,203 1567,480" fill="none" stroke="#f3f3f2" stroke-width="7"/>
<polygon points="318,487 920,140 1235,235 625,585" fill="#77a0b8"/>
<polygon points="625,585 1235,235 1575,520 935,885 932,853" fill="#95b9ce"/>
<line x1="378.2" y1="452.3" x2="686" y2="550" stroke="#6089a2" stroke-width="4"/>
<line x1="686" y1="550" x2="1017.4" y2="838.1" stroke="#769fb7" stroke-width="4"/>
<line x1="438.4" y1="417.6" x2="747" y2="515" stroke="#6089a2" stroke-width="4"/>
<line x1="747" y1="515" x2="1079.3" y2="802.7" stroke="#769fb7" stroke-width="4"/>
<line x1="498.6" y1="382.9" x2="808" y2="480" stroke="#6089a2" stroke-width="4"/>
<line x1="808" y1="480" x2="1141.3" y2="767.4" stroke="#769fb7" stroke-width="4"/>
<line x1="558.8" y1="348.2" x2="869" y2="445" stroke="#6089a2" stroke-width="4"/>
<line x1="869" y1="445" x2="1203.2" y2="732" stroke="#769fb7" stroke-width="4"/>
<line x1="619" y1="313.5" x2="930" y2="410" stroke="#6089a2" stroke-width="4"/>
<line x1="930" y1="410" x2="1265.2" y2="696.7" stroke="#769fb7" stroke-width="4"/>
<line x1="679.2" y1="278.8" x2="991" y2="375" stroke="#6089a2" stroke-width="4"/>
<line x1="991" y1="375" x2="1327.2" y2="661.4" stroke="#769fb7" stroke-width="4"/>
<line x1="739.4" y1="244.1" x2="1052" y2="340" stroke="#6089a2" stroke-width="4"/>
<line x1="1052" y1="340" x2="1389.1" y2="626" stroke="#769fb7" stroke-width="4"/>
<line x1="799.6" y1="209.4" x2="1113" y2="305" stroke="#6089a2" stroke-width="4"/>
<line x1="1113" y1="305" x2="1451.1" y2="590.7" stroke="#769fb7" stroke-width="4"/>
<line x1="859.8" y1="174.7" x2="1174" y2="270" stroke="#6089a2" stroke-width="4"/>
<line x1="1174" y1="270" x2="1513" y2="555.3" stroke="#769fb7" stroke-width="4"/>
<line x1="625" y1="585" x2="1235" y2="235" stroke="#a9cbdc" stroke-width="3"/>
<polygon points="935,885 1575,520 1575,533 940,898" fill="#5f8398"/>
<polygon points="275,483 600,572 923,848 923,862 598,585 275,495" fill="#f5f5f3"/>
<polygon points="932,853 935,885 940,898 946,880" fill="#5f8398"/>
</g>
<g class="bldg-red" transform="translate(3847,2003.4) scale(0.28736)">
<polygon points="275,483 600,575 920,850 920,1275 275,905" fill="#d3d5d4"/>
<polygon points="275,685 920,1055 920,1185 275,815" fill="#db4d45"/>
<polygon points="920,850 1575,475 1575,890 920,1275" fill="#f2f2f0"/>
<polygon points="920,1055 1575,680 1575,810 920,1185" fill="#df5f58"/>
<polygon points="1098,900 1425,715 1425,980 1098,1170" fill="#de5c56"/>
<polygon points="1108,908 1416,731 1416,987 1108,1168" fill="#d0d4d5"/>
<polygon points="1110,912 1360,768 1360,955 1110,1100" fill="#efece7"/>
<line x1="1110" y1="935.5" x2="1360" y2="791.5" stroke="#d9d6d0" stroke-width="3"/>
<line x1="1110" y1="959" x2="1360" y2="815" stroke="#d9d6d0" stroke-width="3"/>
<line x1="1110" y1="982.5" x2="1360" y2="838.5" stroke="#d9d6d0" stroke-width="3"/>
<line x1="1110" y1="1006" x2="1360" y2="862" stroke="#d9d6d0" stroke-width="3"/>
<line x1="1110" y1="1029.5" x2="1360" y2="885.5" stroke="#d9d6d0" stroke-width="3"/>
<line x1="1110" y1="1053" x2="1360" y2="909" stroke="#d9d6d0" stroke-width="3"/>
<line x1="1110" y1="1076.5" x2="1360" y2="932.5" stroke="#d9d6d0" stroke-width="3"/>
<polygon points="1110,912 1360,768 1360,790 1110,934" fill="#dcdbd6" opacity="0.8"/>
<polygon points="1360,768 1414,737 1414,985 1360,955" fill="#c6c3be"/>
<polygon points="1360,768 1414,737 1360,800" fill="#b9b8b3"/>
<polygon points="304.5,615 344.5,638 344.5,684 304.5,661" fill="#dbe5ee"/>
<polygon points="307,619 342,639 342,679.5 307,659.5" fill="#1c273b"/>
<polygon points="349.5,641 389.5,664 389.5,710 349.5,687" fill="#dbe5ee"/>
<polygon points="352,645 387,665 387,705.5 352,685.5" fill="#1c273b"/>
<polygon points="394.5,667 434.5,690 434.5,736 394.5,713" fill="#dbe5ee"/>
<polygon points="397,671 432,691 432,731.5 397,711.5" fill="#1c273b"/>
<polygon points="439.5,693 479.5,716 479.5,762 439.5,739" fill="#dbe5ee"/>
<polygon points="442,697 477,717 477,757.5 442,737.5" fill="#1c273b"/>
<polygon points="633.5,793 673.5,816 673.5,862 633.5,839" fill="#dbe5ee"/>
<polygon points="636,797 671,817 671,857.5 636,837.5" fill="#1c273b"/>
<polygon points="678.5,819 718.5,842 718.5,888 678.5,865" fill="#dbe5ee"/>
<polygon points="681,823 716,843 716,883.5 681,863.5" fill="#1c273b"/>
<polygon points="723.5,845 763.5,868 763.5,914 723.5,891" fill="#dbe5ee"/>
<polygon points="726,849 761,869 761,909.5 726,889.5" fill="#1c273b"/>
<polygon points="768.5,871 808.5,894 808.5,940 768.5,917" fill="#dbe5ee"/>
<polygon points="771,875 806,895 806,935.5 771,915.5" fill="#1c273b"/>
<polygon points="920,108 1245,200 1568,478 1568,520 1235,235 920,140" fill="#c9cacc"/>
<polyline points="921,110 1245,203 1567,480" fill="none" stroke="#f3f3f2" stroke-width="7"/>
<polygon points="318,487 920,140 1235,235 625,585" fill="#77a0b8"/>
<polygon points="625,585 1235,235 1575,520 935,885 932,853" fill="#95b9ce"/>
<line x1="378.2" y1="452.3" x2="686" y2="550" stroke="#6089a2" stroke-width="4"/>
<line x1="686" y1="550" x2="1017.4" y2="838.1" stroke="#769fb7" stroke-width="4"/>
<line x1="438.4" y1="417.6" x2="747" y2="515" stroke="#6089a2" stroke-width="4"/>
<line x1="747" y1="515" x2="1079.3" y2="802.7" stroke="#769fb7" stroke-width="4"/>
<line x1="498.6" y1="382.9" x2="808" y2="480" stroke="#6089a2" stroke-width="4"/>
<line x1="808" y1="480" x2="1141.3" y2="767.4" stroke="#769fb7" stroke-width="4"/>
<line x1="558.8" y1="348.2" x2="869" y2="445" stroke="#6089a2" stroke-width="4"/>
<line x1="869" y1="445" x2="1203.2" y2="732" stroke="#769fb7" stroke-width="4"/>
<line x1="619" y1="313.5" x2="930" y2="410" stroke="#6089a2" stroke-width="4"/>
<line x1="930" y1="410" x2="1265.2" y2="696.7" stroke="#769fb7" stroke-width="4"/>
<line x1="679.2" y1="278.8" x2="991" y2="375" stroke="#6089a2" stroke-width="4"/>
<line x1="991" y1="375" x2="1327.2" y2="661.4" stroke="#769fb7" stroke-width="4"/>
<line x1="739.4" y1="244.1" x2="1052" y2="340" stroke="#6089a2" stroke-width="4"/>
<line x1="1052" y1="340" x2="1389.1" y2="626" stroke="#769fb7" stroke-width="4"/>
<line x1="799.6" y1="209.4" x2="1113" y2="305" stroke="#6089a2" stroke-width="4"/>
<line x1="1113" y1="305" x2="1451.1" y2="590.7" stroke="#769fb7" stroke-width="4"/>
<line x1="859.8" y1="174.7" x2="1174" y2="270" stroke="#6089a2" stroke-width="4"/>
<line x1="1174" y1="270" x2="1513" y2="555.3" stroke="#769fb7" stroke-width="4"/>
<line x1="625" y1="585" x2="1235" y2="235" stroke="#a9cbdc" stroke-width="3"/>
<polygon points="935,885 1575,520 1575,533 940,898" fill="#5f8398"/>
<polygon points="275,483 600,572 923,848 923,862 598,585 275,495" fill="#f5f5f3"/>
<polygon points="932,853 935,885 940,898 946,880" fill="#5f8398"/>
</g>
<g class="bldg-red" transform="translate(1911.5,2025.5) scale(0.28736)">
<polygon points="275,483 600,575 920,850 920,1275 275,905" fill="#d3d5d4"/>
<polygon points="275,685 920,1055 920,1185 275,815" fill="#db4d45"/>
<polygon points="920,850 1575,475 1575,890 920,1275" fill="#f2f2f0"/>
<polygon points="920,1055 1575,680 1575,810 920,1185" fill="#df5f58"/>
<polygon points="1098,900 1425,715 1425,980 1098,1170" fill="#de5c56"/>
<polygon points="1108,908 1416,731 1416,987 1108,1168" fill="#d0d4d5"/>
<polygon points="1110,912 1360,768 1360,955 1110,1100" fill="#efece7"/>
<line x1="1110" y1="935.5" x2="1360" y2="791.5" stroke="#d9d6d0" stroke-width="3"/>
<line x1="1110" y1="959" x2="1360" y2="815" stroke="#d9d6d0" stroke-width="3"/>
<line x1="1110" y1="982.5" x2="1360" y2="838.5" stroke="#d9d6d0" stroke-width="3"/>
<line x1="1110" y1="1006" x2="1360" y2="862" stroke="#d9d6d0" stroke-width="3"/>
<line x1="1110" y1="1029.5" x2="1360" y2="885.5" stroke="#d9d6d0" stroke-width="3"/>
<line x1="1110" y1="1053" x2="1360" y2="909" stroke="#d9d6d0" stroke-width="3"/>
<line x1="1110" y1="1076.5" x2="1360" y2="932.5" stroke="#d9d6d0" stroke-width="3"/>
<polygon points="1110,912 1360,768 1360,790 1110,934" fill="#dcdbd6" opacity="0.8"/>
<polygon points="1360,768 1414,737 1414,985 1360,955" fill="#c6c3be"/>
<polygon points="1360,768 1414,737 1360,800" fill="#b9b8b3"/>
<polygon points="304.5,615 344.5,638 344.5,684 304.5,661" fill="#dbe5ee"/>
<polygon points="307,619 342,639 342,679.5 307,659.5" fill="#1c273b"/>
<polygon points="349.5,641 389.5,664 389.5,710 349.5,687" fill="#dbe5ee"/>
<polygon points="352,645 387,665 387,705.5 352,685.5" fill="#1c273b"/>
<polygon points="394.5,667 434.5,690 434.5,736 394.5,713" fill="#dbe5ee"/>
<polygon points="397,671 432,691 432,731.5 397,711.5" fill="#1c273b"/>
<polygon points="439.5,693 479.5,716 479.5,762 439.5,739" fill="#dbe5ee"/>
<polygon points="442,697 477,717 477,757.5 442,737.5" fill="#1c273b"/>
<polygon points="633.5,793 673.5,816 673.5,862 633.5,839" fill="#dbe5ee"/>
<polygon points="636,797 671,817 671,857.5 636,837.5" fill="#1c273b"/>
<polygon points="678.5,819 718.5,842 718.5,888 678.5,865" fill="#dbe5ee"/>
<polygon points="681,823 716,843 716,883.5 681,863.5" fill="#1c273b"/>
<polygon points="723.5,845 763.5,868 763.5,914 723.5,891" fill="#dbe5ee"/>
<polygon points="726,849 761,869 761,909.5 726,889.5" fill="#1c273b"/>
<polygon points="768.5,871 808.5,894 808.5,940 768.5,917" fill="#dbe5ee"/>
<polygon points="771,875 806,895 806,935.5 771,915.5" fill="#1c273b"/>
<polygon points="920,108 1245,200 1568,478 1568,520 1235,235 920,140" fill="#c9cacc"/>
<polyline points="921,110 1245,203 1567,480" fill="none" stroke="#f3f3f2" stroke-width="7"/>
<polygon points="318,487 920,140 1235,235 625,585" fill="#77a0b8"/>
<polygon points="625,585 1235,235 1575,520 935,885 932,853" fill="#95b9ce"/>
<line x1="378.2" y1="452.3" x2="686" y2="550" stroke="#6089a2" stroke-width="4"/>
<line x1="686" y1="550" x2="1017.4" y2="838.1" stroke="#769fb7" stroke-width="4"/>
<line x1="438.4" y1="417.6" x2="747" y2="515" stroke="#6089a2" stroke-width="4"/>
<line x1="747" y1="515" x2="1079.3" y2="802.7" stroke="#769fb7" stroke-width="4"/>
<line x1="498.6" y1="382.9" x2="808" y2="480" stroke="#6089a2" stroke-width="4"/>
<line x1="808" y1="480" x2="1141.3" y2="767.4" stroke="#769fb7" stroke-width="4"/>
<line x1="558.8" y1="348.2" x2="869" y2="445" stroke="#6089a2" stroke-width="4"/>
<line x1="869" y1="445" x2="1203.2" y2="732" stroke="#769fb7" stroke-width="4"/>
<line x1="619" y1="313.5" x2="930" y2="410" stroke="#6089a2" stroke-width="4"/>
<line x1="930" y1="410" x2="1265.2" y2="696.7" stroke="#769fb7" stroke-width="4"/>
<line x1="679.2" y1="278.8" x2="991" y2="375" stroke="#6089a2" stroke-width="4"/>
<line x1="991" y1="375" x2="1327.2" y2="661.4" stroke="#769fb7" stroke-width="4"/>
<line x1="739.4" y1="244.1" x2="1052" y2="340" stroke="#6089a2" stroke-width="4"/>
<line x1="1052" y1="340" x2="1389.1" y2="626" stroke="#769fb7" stroke-width="4"/>
<line x1="799.6" y1="209.4" x2="1113" y2="305" stroke="#6089a2" stroke-width="4"/>
<line x1="1113" y1="305" x2="1451.1" y2="590.7" stroke="#769fb7" stroke-width="4"/>
<line x1="859.8" y1="174.7" x2="1174" y2="270" stroke="#6089a2" stroke-width="4"/>
<line x1="1174" y1="270" x2="1513" y2="555.3" stroke="#769fb7" stroke-width="4"/>
<line x1="625" y1="585" x2="1235" y2="235" stroke="#a9cbdc" stroke-width="3"/>
<polygon points="935,885 1575,520 1575,533 940,898" fill="#5f8398"/>
<polygon points="275,483 600,572 923,848 923,862 598,585 275,495" fill="#f5f5f3"/>
<polygon points="932,853 935,885 940,898 946,880" fill="#5f8398"/>
</g>
<g class="bldg-red" transform="translate(3950.9,2326.6) scale(0.28736)">
<polygon points="275,483 600,575 920,850 920,1275 275,905" fill="#d3d5d4"/>
<polygon points="275,685 920,1055 920,1185 275,815" fill="#db4d45"/>
<polygon points="920,850 1575,475 1575,890 920,1275" fill="#f2f2f0"/>
<polygon points="920,1055 1575,680 1575,810 920,1185" fill="#df5f58"/>
<polygon points="1098,900 1425,715 1425,980 1098,1170" fill="#de5c56"/>
<polygon points="1108,908 1416,731 1416,987 1108,1168" fill="#d0d4d5"/>
<polygon points="1110,912 1360,768 1360,955 1110,1100" fill="#efece7"/>
<line x1="1110" y1="935.5" x2="1360" y2="791.5" stroke="#d9d6d0" stroke-width="3"/>
<line x1="1110" y1="959" x2="1360" y2="815" stroke="#d9d6d0" stroke-width="3"/>
<line x1="1110" y1="982.5" x2="1360" y2="838.5" stroke="#d9d6d0" stroke-width="3"/>
<line x1="1110" y1="1006" x2="1360" y2="862" stroke="#d9d6d0" stroke-width="3"/>
<line x1="1110" y1="1029.5" x2="1360" y2="885.5" stroke="#d9d6d0" stroke-width="3"/>
<line x1="1110" y1="1053" x2="1360" y2="909" stroke="#d9d6d0" stroke-width="3"/>
<line x1="1110" y1="1076.5" x2="1360" y2="932.5" stroke="#d9d6d0" stroke-width="3"/>
<polygon points="1110,912 1360,768 1360,790 1110,934" fill="#dcdbd6" opacity="0.8"/>
<polygon points="1360,768 1414,737 1414,985 1360,955" fill="#c6c3be"/>
<polygon points="1360,768 1414,737 1360,800" fill="#b9b8b3"/>
<polygon points="304.5,615 344.5,638 344.5,684 304.5,661" fill="#dbe5ee"/>
<polygon points="307,619 342,639 342,679.5 307,659.5" fill="#1c273b"/>
<polygon points="349.5,641 389.5,664 389.5,710 349.5,687" fill="#dbe5ee"/>
<polygon points="352,645 387,665 387,705.5 352,685.5" fill="#1c273b"/>
<polygon points="394.5,667 434.5,690 434.5,736 394.5,713" fill="#dbe5ee"/>
<polygon points="397,671 432,691 432,731.5 397,711.5" fill="#1c273b"/>
<polygon points="439.5,693 479.5,716 479.5,762 439.5,739" fill="#dbe5ee"/>
<polygon points="442,697 477,717 477,757.5 442,737.5" fill="#1c273b"/>
<polygon points="633.5,793 673.5,816 673.5,862 633.5,839" fill="#dbe5ee"/>
<polygon points="636,797 671,817 671,857.5 636,837.5" fill="#1c273b"/>
<polygon points="678.5,819 718.5,842 718.5,888 678.5,865" fill="#dbe5ee"/>
<polygon points="681,823 716,843 716,883.5 681,863.5" fill="#1c273b"/>
<polygon points="723.5,845 763.5,868 763.5,914 723.5,891" fill="#dbe5ee"/>
<polygon points="726,849 761,869 761,909.5 726,889.5" fill="#1c273b"/>
<polygon points="768.5,871 808.5,894 808.5,940 768.5,917" fill="#dbe5ee"/>
<polygon points="771,875 806,895 806,935.5 771,915.5" fill="#1c273b"/>
<polygon points="920,108 1245,200 1568,478 1568,520 1235,235 920,140" fill="#c9cacc"/>
<polyline points="921,110 1245,203 1567,480" fill="none" stroke="#f3f3f2" stroke-width="7"/>
<polygon points="318,487 920,140 1235,235 625,585" fill="#77a0b8"/>
<polygon points="625,585 1235,235 1575,520 935,885 932,853" fill="#95b9ce"/>
<line x1="378.2" y1="452.3" x2="686" y2="550" stroke="#6089a2" stroke-width="4"/>
<line x1="686" y1="550" x2="1017.4" y2="838.1" stroke="#769fb7" stroke-width="4"/>
<line x1="438.4" y1="417.6" x2="747" y2="515" stroke="#6089a2" stroke-width="4"/>
<line x1="747" y1="515" x2="1079.3" y2="802.7" stroke="#769fb7" stroke-width="4"/>
<line x1="498.6" y1="382.9" x2="808" y2="480" stroke="#6089a2" stroke-width="4"/>
<line x1="808" y1="480" x2="1141.3" y2="767.4" stroke="#769fb7" stroke-width="4"/>
<line x1="558.8" y1="348.2" x2="869" y2="445" stroke="#6089a2" stroke-width="4"/>
<line x1="869" y1="445" x2="1203.2" y2="732" stroke="#769fb7" stroke-width="4"/>
<line x1="619" y1="313.5" x2="930" y2="410" stroke="#6089a2" stroke-width="4"/>
<line x1="930" y1="410" x2="1265.2" y2="696.7" stroke="#769fb7" stroke-width="4"/>
<line x1="679.2" y1="278.8" x2="991" y2="375" stroke="#6089a2" stroke-width="4"/>
<line x1="991" y1="375" x2="1327.2" y2="661.4" stroke="#769fb7" stroke-width="4"/>
<line x1="739.4" y1="244.1" x2="1052" y2="340" stroke="#6089a2" stroke-width="4"/>
<line x1="1052" y1="340" x2="1389.1" y2="626" stroke="#769fb7" stroke-width="4"/>
<line x1="799.6" y1="209.4" x2="1113" y2="305" stroke="#6089a2" stroke-width="4"/>
<line x1="1113" y1="305" x2="1451.1" y2="590.7" stroke="#769fb7" stroke-width="4"/>
<line x1="859.8" y1="174.7" x2="1174" y2="270" stroke="#6089a2" stroke-width="4"/>
<line x1="1174" y1="270" x2="1513" y2="555.3" stroke="#769fb7" stroke-width="4"/>
<line x1="625" y1="585" x2="1235" y2="235" stroke="#a9cbdc" stroke-width="3"/>
<polygon points="935,885 1575,520 1575,533 940,898" fill="#5f8398"/>
<polygon points="275,483 600,572 923,848 923,862 598,585 275,495" fill="#f5f5f3"/>
<polygon points="932,853 935,885 940,898 946,880" fill="#5f8398"/>
</g>
</svg></body></html>
